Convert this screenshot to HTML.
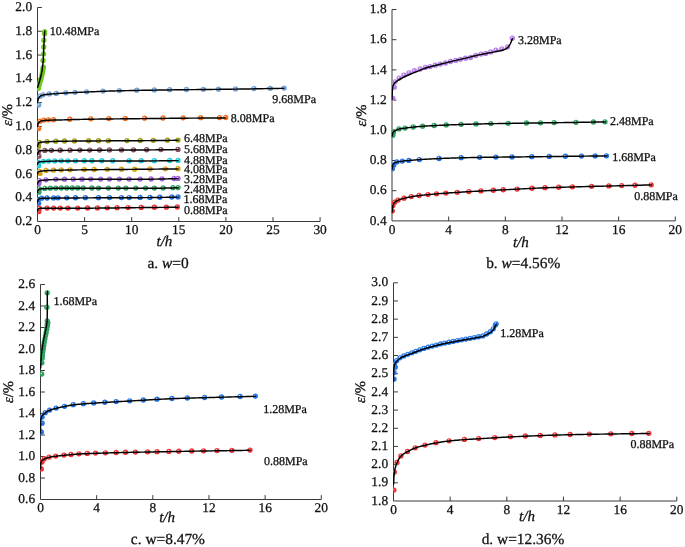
<!DOCTYPE html>
<html><head><meta charset="utf-8"><style>
html,body{margin:0;padding:0;background:#fff;}
body{width:685px;height:547px;overflow:hidden;}
svg{display:block;will-change:transform;}
text{font-family:"Liberation Serif",serif;stroke:#111;stroke-width:0.28px;text-rendering:geometricPrecision;}
</style></head><body>
<svg width="685" height="547" viewBox="0 0 685 547" font-family='"Liberation Serif", serif' fill="#111"><defs><radialGradient id="g_red" cx="0.4" cy="0.36" r="0.62"><stop offset="0" stop-color="#ffffff" stop-opacity="0.6"/><stop offset="0.3" stop-color="#ee2f2f" stop-opacity="0.92"/><stop offset="1" stop-color="#ee2f2f" stop-opacity="1"/></radialGradient><radialGradient id="g_blue" cx="0.4" cy="0.36" r="0.62"><stop offset="0" stop-color="#ffffff" stop-opacity="0.6"/><stop offset="0.3" stop-color="#1b6fe2" stop-opacity="0.92"/><stop offset="1" stop-color="#1b6fe2" stop-opacity="1"/></radialGradient><radialGradient id="g_green" cx="0.4" cy="0.36" r="0.62"><stop offset="0" stop-color="#ffffff" stop-opacity="0.6"/><stop offset="0.3" stop-color="#2a9e5a" stop-opacity="0.92"/><stop offset="1" stop-color="#2a9e5a" stop-opacity="1"/></radialGradient><radialGradient id="g_purple" cx="0.4" cy="0.36" r="0.62"><stop offset="0" stop-color="#ffffff" stop-opacity="0.6"/><stop offset="0.3" stop-color="#a25ede" stop-opacity="0.92"/><stop offset="1" stop-color="#a25ede" stop-opacity="1"/></radialGradient><radialGradient id="g_gold" cx="0.4" cy="0.36" r="0.62"><stop offset="0" stop-color="#ffffff" stop-opacity="0.6"/><stop offset="0.3" stop-color="#d3a010" stop-opacity="0.92"/><stop offset="1" stop-color="#d3a010" stop-opacity="1"/></radialGradient><radialGradient id="g_cyan" cx="0.4" cy="0.36" r="0.62"><stop offset="0" stop-color="#ffffff" stop-opacity="0.6"/><stop offset="0.3" stop-color="#14ccd8" stop-opacity="0.92"/><stop offset="1" stop-color="#14ccd8" stop-opacity="1"/></radialGradient><radialGradient id="g_brown" cx="0.4" cy="0.36" r="0.62"><stop offset="0" stop-color="#ffffff" stop-opacity="0.6"/><stop offset="0.3" stop-color="#84505c" stop-opacity="0.92"/><stop offset="1" stop-color="#84505c" stop-opacity="1"/></radialGradient><radialGradient id="g_olive" cx="0.4" cy="0.36" r="0.62"><stop offset="0" stop-color="#ffffff" stop-opacity="0.6"/><stop offset="0.3" stop-color="#9a9a12" stop-opacity="0.92"/><stop offset="1" stop-color="#9a9a12" stop-opacity="1"/></radialGradient><radialGradient id="g_orange" cx="0.4" cy="0.36" r="0.62"><stop offset="0" stop-color="#ffffff" stop-opacity="0.6"/><stop offset="0.3" stop-color="#f26a18" stop-opacity="0.92"/><stop offset="1" stop-color="#f26a18" stop-opacity="1"/></radialGradient><radialGradient id="g_lblue" cx="0.4" cy="0.36" r="0.62"><stop offset="0" stop-color="#ffffff" stop-opacity="0.6"/><stop offset="0.3" stop-color="#6a9ed8" stop-opacity="0.92"/><stop offset="1" stop-color="#6a9ed8" stop-opacity="1"/></radialGradient><radialGradient id="g_lgreen" cx="0.4" cy="0.36" r="0.62"><stop offset="0" stop-color="#ffffff" stop-opacity="0.6"/><stop offset="0.3" stop-color="#6cc61a" stop-opacity="0.92"/><stop offset="1" stop-color="#6cc61a" stop-opacity="1"/></radialGradient><radialGradient id="g_bpurple" cx="0.4" cy="0.36" r="0.62"><stop offset="0" stop-color="#ffffff" stop-opacity="0.6"/><stop offset="0.3" stop-color="#b37ce8" stop-opacity="0.92"/><stop offset="1" stop-color="#b37ce8" stop-opacity="1"/></radialGradient><radialGradient id="g_bblue" cx="0.4" cy="0.36" r="0.62"><stop offset="0" stop-color="#ffffff" stop-opacity="0.6"/><stop offset="0.3" stop-color="#2476e6" stop-opacity="0.92"/><stop offset="1" stop-color="#2476e6" stop-opacity="1"/></radialGradient><clipPath id="cA"><rect x="37.0" y="0" width="300" height="221"/></clipPath><clipPath id="cB"><rect x="391.5" y="0" width="300" height="220.5"/></clipPath><clipPath id="cC"><rect x="40.0" y="270" width="300" height="229"/></clipPath><clipPath id="cD"><rect x="393.0" y="270" width="300" height="230.5"/></clipPath></defs><path d="M37.5,7.5 L37.5,221.5 L320.1,221.5" fill="none" stroke="#3a3a3a" stroke-width="1"/><path d="M84.60,221.5 L84.60,217.1 M131.70,221.5 L131.70,217.1 M178.80,221.5 L178.80,217.1 M225.90,221.5 L225.90,217.1 M273.00,221.5 L273.00,217.1 M320.10,221.5 L320.10,217.1 M37.5,197.72 L41.9,197.72 M37.5,173.94 L41.9,173.94 M37.5,150.17 L41.9,150.17 M37.5,126.39 L41.9,126.39 M37.5,102.61 L41.9,102.61 M37.5,78.83 L41.9,78.83 M37.5,55.06 L41.9,55.06 M37.5,31.28 L41.9,31.28 M37.5,7.50 L41.9,7.50" fill="none" stroke="#3a3a3a" stroke-width="1"/><text x="37.50" y="234.40" font-size="13.4" text-anchor="middle">0</text><text x="84.60" y="234.40" font-size="13.4" text-anchor="middle">5</text><text x="131.70" y="234.40" font-size="13.4" text-anchor="middle">10</text><text x="178.80" y="234.40" font-size="13.4" text-anchor="middle">15</text><text x="225.90" y="234.40" font-size="13.4" text-anchor="middle">20</text><text x="273.00" y="234.40" font-size="13.4" text-anchor="middle">25</text><text x="320.10" y="234.40" font-size="13.4" text-anchor="middle">30</text><text x="32.10" y="225.10" font-size="13.4" text-anchor="end">0.2</text><text x="32.10" y="201.32" font-size="13.4" text-anchor="end">0.4</text><text x="32.10" y="177.54" font-size="13.4" text-anchor="end">0.6</text><text x="32.10" y="153.77" font-size="13.4" text-anchor="end">0.8</text><text x="32.10" y="129.99" font-size="13.4" text-anchor="end">1.0</text><text x="32.10" y="106.21" font-size="13.4" text-anchor="end">1.2</text><text x="32.10" y="82.43" font-size="13.4" text-anchor="end">1.4</text><text x="32.10" y="58.66" font-size="13.4" text-anchor="end">1.6</text><text x="32.10" y="34.88" font-size="13.4" text-anchor="end">1.8</text><text x="32.10" y="11.10" font-size="13.4" text-anchor="end">2.0</text><text transform="translate(12.3,115.0) rotate(-90)" font-size="14.6" text-anchor="middle"><tspan font-style="italic">ε</tspan>/%</text><text x="164.4" y="245.5" font-size="15" text-anchor="middle" font-style="italic">t/h</text><text x="168.0" y="268.3" font-size="15.4" text-anchor="middle">a. <tspan font-style="italic">w</tspan>=0</text><g clip-path="url(#cA)"><circle cx="38.60" cy="146.30" r="2.65" fill="url(#g_olive)"/><circle cx="39.38" cy="142.35" r="2.65" fill="url(#g_olive)"/><circle cx="47.04" cy="141.57" r="2.65" fill="url(#g_olive)"/><circle cx="55.80" cy="141.20" r="2.65" fill="url(#g_olive)"/><circle cx="64.56" cy="141.01" r="2.65" fill="url(#g_olive)"/><circle cx="74.41" cy="140.89" r="2.65" fill="url(#g_olive)"/><circle cx="88.65" cy="140.76" r="2.65" fill="url(#g_olive)"/><circle cx="98.50" cy="140.70" r="2.65" fill="url(#g_olive)"/><circle cx="108.35" cy="140.64" r="2.65" fill="url(#g_olive)"/><circle cx="126.96" cy="140.55" r="2.65" fill="url(#g_olive)"/><circle cx="140.10" cy="140.48" r="2.65" fill="url(#g_olive)"/><circle cx="153.24" cy="140.37" r="2.65" fill="url(#g_olive)"/><circle cx="167.47" cy="140.22" r="2.65" fill="url(#g_olive)"/><circle cx="178.00" cy="140.10" r="2.65" fill="url(#g_olive)"/><path d="M37.50,146.50 L37.51,146.48 L37.52,146.43 L37.56,146.34 L37.60,146.21 L37.66,146.04 L37.72,145.82 L37.81,145.55 L37.90,145.22 L38.01,144.85 L38.12,144.44 L38.26,144.01 L38.40,143.57 L38.56,143.17 L38.72,142.86 L38.90,142.70 L38.91,142.70 L39.10,142.63 L39.30,142.57 L39.52,142.50 L39.75,142.44 L40.00,142.39 L40.25,142.33 L40.52,142.28 L40.80,142.24 L41.10,142.19 L41.40,142.16 L41.72,142.12 L42.05,142.09 L42.40,142.06 L42.75,142.04 L43.12,142.01 L43.30,142.00 L43.50,141.99 L43.89,141.96 L44.30,141.93 L44.72,141.91 L45.15,141.88 L45.59,141.85 L46.05,141.82 L46.52,141.80 L47.00,141.77 L47.49,141.74 L48.00,141.71 L48.52,141.69 L49.05,141.66 L49.59,141.63 L50.14,141.61 L50.71,141.58 L51.29,141.56 L51.89,141.53 L52.49,141.51 L53.11,141.49 L53.74,141.46 L54.38,141.44 L55.04,141.42 L55.71,141.40 L56.39,141.38 L57.08,141.36 L57.79,141.34 L58.51,141.32 L59.24,141.30 L59.98,141.29 L60.74,141.27 L61.50,141.26 L62.28,141.24 L63.08,141.23 L63.88,141.22 L64.70,141.20 L65.00,141.20 L65.53,141.19 L66.37,141.18 L67.23,141.17 L68.10,141.16 L68.98,141.15 L69.87,141.14 L70.78,141.13 L71.69,141.12 L72.62,141.11 L73.57,141.09 L74.52,141.08 L75.49,141.07 L76.47,141.06 L77.46,141.05 L78.47,141.04 L79.49,141.04 L80.52,141.03 L81.56,141.02 L82.62,141.01 L83.68,141.00 L84.76,140.99 L85.86,140.98 L86.96,140.97 L88.08,140.96 L89.21,140.96 L90.35,140.95 L91.51,140.94 L92.68,140.93 L93.86,140.92 L95.05,140.92 L96.25,140.91 L97.47,140.90 L98.70,140.89 L99.94,140.89 L101.20,140.88 L102.47,140.87 L103.75,140.87 L105.04,140.86 L106.34,140.85 L107.66,140.85 L108.99,140.84 L110.34,140.83 L111.69,140.83 L113.06,140.82 L114.44,140.81 L115.83,140.81 L117.24,140.80 L118.65,140.79 L120.08,140.79 L121.53,140.78 L122.98,140.77 L124.45,140.77 L125.93,140.76 L127.42,140.75 L128.92,140.74 L130.44,140.74 L131.97,140.73 L133.51,140.72 L135.07,140.71 L136.64,140.70 L138.22,140.69 L139.81,140.68 L141.41,140.67 L143.03,140.66 L144.66,140.64 L146.30,140.63 L147.96,140.62 L149.63,140.60 L150.00,140.60 L151.31,140.59 L153.00,140.57 L154.70,140.56 L156.42,140.54 L158.15,140.52 L159.89,140.50 L161.65,140.48 L163.41,140.46 L165.19,140.44 L166.98,140.42 L168.79,140.40 L170.61,140.38 L172.44,140.36 L174.28,140.34 L176.13,140.32 L178.00,140.30" fill="none" stroke="#000" stroke-width="1.45" stroke-linecap="round" stroke-linejoin="round"/><circle cx="38.90" cy="156.20" r="2.65" fill="url(#g_brown)"/><circle cx="38.28" cy="151.92" r="2.65" fill="url(#g_brown)"/><circle cx="44.85" cy="150.38" r="2.65" fill="url(#g_brown)"/><circle cx="51.42" cy="150.29" r="2.65" fill="url(#g_brown)"/><circle cx="60.18" cy="150.23" r="2.65" fill="url(#g_brown)"/><circle cx="70.03" cy="150.16" r="2.65" fill="url(#g_brown)"/><circle cx="79.89" cy="150.09" r="2.65" fill="url(#g_brown)"/><circle cx="89.74" cy="150.03" r="2.65" fill="url(#g_brown)"/><circle cx="99.59" cy="149.98" r="2.65" fill="url(#g_brown)"/><circle cx="109.45" cy="149.94" r="2.65" fill="url(#g_brown)"/><circle cx="121.49" cy="149.88" r="2.65" fill="url(#g_brown)"/><circle cx="133.53" cy="149.81" r="2.65" fill="url(#g_brown)"/><circle cx="146.67" cy="149.73" r="2.65" fill="url(#g_brown)"/><circle cx="160.90" cy="149.59" r="2.65" fill="url(#g_brown)"/><circle cx="178.00" cy="149.40" r="2.65" fill="url(#g_brown)"/><path d="M37.50,154.50 L37.51,154.47 L37.52,154.36 L37.56,154.17 L37.60,153.89 L37.66,153.53 L37.72,153.15 L37.80,152.90 L37.81,152.89 L37.90,152.72 L38.01,152.55 L38.12,152.36 L38.26,152.16 L38.40,151.97 L38.56,151.77 L38.72,151.58 L38.91,151.39 L39.10,151.22 L39.30,151.07 L39.52,150.94 L39.75,150.83 L40.00,150.76 L40.25,150.71 L40.40,150.70 L40.52,150.70 L40.80,150.69 L41.10,150.68 L41.40,150.67 L41.72,150.66 L42.05,150.65 L42.40,150.64 L42.75,150.63 L43.12,150.62 L43.50,150.61 L43.89,150.60 L44.30,150.59 L44.72,150.59 L45.15,150.58 L45.59,150.57 L46.05,150.56 L46.52,150.55 L47.00,150.54 L47.49,150.53 L48.00,150.53 L48.52,150.52 L49.05,150.51 L49.59,150.51 L50.14,150.50 L50.71,150.49 L51.29,150.49 L51.89,150.48 L52.49,150.48 L53.11,150.47 L53.74,150.47 L54.38,150.46 L55.04,150.46 L55.71,150.46 L56.39,150.45 L57.08,150.45 L57.79,150.44 L58.51,150.44 L59.24,150.44 L59.98,150.43 L60.74,150.43 L61.50,150.42 L62.28,150.42 L63.08,150.41 L63.88,150.41 L64.70,150.40 L65.00,150.40 L65.53,150.40 L66.37,150.39 L67.23,150.38 L68.10,150.37 L68.98,150.37 L69.87,150.36 L70.78,150.35 L71.69,150.35 L72.62,150.34 L73.57,150.33 L74.52,150.33 L75.49,150.32 L76.47,150.31 L77.46,150.31 L78.47,150.30 L79.49,150.29 L80.52,150.29 L81.56,150.28 L82.62,150.27 L83.68,150.27 L84.76,150.26 L85.86,150.25 L86.96,150.25 L88.08,150.24 L89.21,150.24 L90.35,150.23 L91.51,150.22 L92.68,150.22 L93.86,150.21 L95.05,150.21 L96.25,150.20 L97.47,150.19 L98.70,150.19 L99.94,150.18 L101.20,150.17 L102.47,150.17 L103.75,150.16 L105.04,150.16 L106.34,150.15 L107.66,150.14 L108.99,150.14 L110.34,150.13 L111.69,150.13 L113.06,150.12 L114.44,150.11 L115.83,150.11 L117.24,150.10 L118.65,150.09 L120.08,150.08 L121.53,150.08 L122.98,150.07 L124.45,150.06 L125.93,150.05 L127.42,150.05 L128.92,150.04 L130.44,150.03 L131.97,150.02 L133.51,150.01 L135.07,150.00 L136.64,149.99 L138.22,149.98 L139.81,149.97 L141.41,149.96 L143.03,149.95 L144.66,149.94 L146.30,149.93 L147.96,149.92 L149.63,149.90 L150.00,149.90 L151.31,149.89 L153.00,149.87 L154.70,149.86 L156.42,149.84 L158.15,149.82 L159.89,149.81 L161.65,149.79 L163.41,149.77 L165.19,149.75 L166.98,149.73 L168.79,149.70 L170.61,149.68 L172.44,149.66 L174.28,149.64 L176.13,149.62 L178.00,149.60" fill="none" stroke="#000" stroke-width="1.45" stroke-linecap="round" stroke-linejoin="round"/><circle cx="38.60" cy="165.70" r="2.65" fill="url(#g_cyan)"/><circle cx="38.28" cy="162.18" r="2.65" fill="url(#g_cyan)"/><circle cx="43.32" cy="161.32" r="2.65" fill="url(#g_cyan)"/><circle cx="48.58" cy="161.07" r="2.65" fill="url(#g_cyan)"/><circle cx="54.71" cy="160.90" r="2.65" fill="url(#g_cyan)"/><circle cx="61.28" cy="160.82" r="2.65" fill="url(#g_cyan)"/><circle cx="67.84" cy="160.79" r="2.65" fill="url(#g_cyan)"/><circle cx="75.51" cy="160.78" r="2.65" fill="url(#g_cyan)"/><circle cx="84.27" cy="160.76" r="2.65" fill="url(#g_cyan)"/><circle cx="91.93" cy="160.76" r="2.65" fill="url(#g_cyan)"/><circle cx="101.78" cy="160.75" r="2.65" fill="url(#g_cyan)"/><circle cx="112.73" cy="160.74" r="2.65" fill="url(#g_cyan)"/><circle cx="129.15" cy="160.73" r="2.65" fill="url(#g_cyan)"/><circle cx="141.20" cy="160.72" r="2.65" fill="url(#g_cyan)"/><circle cx="154.33" cy="160.68" r="2.65" fill="url(#g_cyan)"/><circle cx="169.66" cy="160.50" r="2.65" fill="url(#g_cyan)"/><circle cx="178.00" cy="160.40" r="2.65" fill="url(#g_cyan)"/><path d="M37.50,164.50 L37.51,164.46 L37.52,164.35 L37.56,164.14 L37.60,163.83 L37.66,163.43 L37.72,163.03 L37.80,162.80 L37.81,162.79 L37.90,162.70 L38.01,162.60 L38.12,162.50 L38.26,162.40 L38.40,162.30 L38.56,162.20 L38.72,162.11 L38.91,162.02 L39.10,161.94 L39.30,161.87 L39.52,161.82 L39.75,161.77 L40.00,161.74 L40.25,161.71 L40.40,161.70 L40.52,161.69 L40.80,161.67 L41.10,161.65 L41.40,161.63 L41.72,161.61 L42.05,161.59 L42.40,161.57 L42.75,161.55 L43.12,161.53 L43.50,161.51 L43.89,161.48 L44.30,161.46 L44.72,161.44 L45.15,161.42 L45.59,161.40 L46.05,161.38 L46.52,161.35 L47.00,161.33 L47.49,161.31 L48.00,161.29 L48.52,161.27 L49.05,161.25 L49.59,161.23 L50.14,161.22 L50.71,161.20 L51.29,161.18 L51.89,161.16 L52.49,161.15 L53.11,161.13 L53.74,161.12 L54.38,161.11 L55.04,161.09 L55.71,161.08 L56.39,161.07 L57.08,161.06 L57.79,161.05 L58.51,161.04 L59.24,161.03 L59.98,161.03 L60.74,161.02 L61.50,161.02 L62.28,161.01 L63.08,161.01 L63.88,161.00 L64.70,161.00 L65.00,161.00 L65.53,161.00 L66.37,161.00 L67.23,160.99 L68.10,160.99 L68.98,160.99 L69.87,160.99 L70.78,160.99 L71.69,160.98 L72.62,160.98 L73.57,160.98 L74.52,160.98 L75.49,160.98 L76.47,160.97 L77.46,160.97 L78.47,160.97 L79.49,160.97 L80.52,160.97 L81.56,160.97 L82.62,160.97 L83.68,160.96 L84.76,160.96 L85.86,160.96 L86.96,160.96 L88.08,160.96 L89.21,160.96 L90.35,160.96 L91.51,160.96 L92.68,160.96 L93.86,160.95 L95.05,160.95 L96.25,160.95 L97.47,160.95 L98.70,160.95 L99.94,160.95 L101.20,160.95 L102.47,160.95 L103.75,160.95 L105.04,160.95 L106.34,160.95 L107.66,160.95 L108.99,160.95 L110.34,160.95 L111.69,160.95 L113.06,160.94 L114.44,160.94 L115.83,160.94 L117.24,160.94 L118.65,160.94 L120.08,160.94 L121.53,160.94 L122.98,160.94 L124.45,160.94 L125.93,160.94 L127.42,160.94 L128.92,160.93 L130.44,160.93 L131.97,160.93 L133.51,160.93 L135.07,160.93 L136.64,160.93 L138.22,160.92 L139.81,160.92 L141.41,160.92 L143.03,160.91 L144.66,160.91 L146.30,160.91 L147.96,160.90 L149.63,160.90 L150.00,160.90 L151.31,160.90 L153.00,160.89 L154.70,160.88 L156.42,160.86 L158.15,160.85 L159.89,160.83 L161.65,160.81 L163.41,160.79 L165.19,160.76 L166.98,160.74 L168.79,160.72 L170.61,160.69 L172.44,160.67 L174.28,160.64 L176.13,160.62 L178.00,160.60" fill="none" stroke="#000" stroke-width="1.45" stroke-linecap="round" stroke-linejoin="round"/><circle cx="40.00" cy="173.40" r="2.65" fill="url(#g_gold)"/><circle cx="39.38" cy="171.28" r="2.65" fill="url(#g_gold)"/><circle cx="45.95" cy="170.50" r="2.65" fill="url(#g_gold)"/><circle cx="53.61" cy="170.15" r="2.65" fill="url(#g_gold)"/><circle cx="61.28" cy="169.97" r="2.65" fill="url(#g_gold)"/><circle cx="70.03" cy="169.81" r="2.65" fill="url(#g_gold)"/><circle cx="84.27" cy="169.61" r="2.65" fill="url(#g_gold)"/><circle cx="94.12" cy="169.49" r="2.65" fill="url(#g_gold)"/><circle cx="107.26" cy="169.37" r="2.65" fill="url(#g_gold)"/><circle cx="121.49" cy="169.25" r="2.65" fill="url(#g_gold)"/><circle cx="134.63" cy="169.15" r="2.65" fill="url(#g_gold)"/><circle cx="149.96" cy="169.00" r="2.65" fill="url(#g_gold)"/><circle cx="165.28" cy="168.84" r="2.65" fill="url(#g_gold)"/><circle cx="178.00" cy="168.70" r="2.65" fill="url(#g_gold)"/><path d="M37.50,174.00 L37.51,173.96 L37.52,173.85 L37.56,173.64 L37.60,173.32 L37.66,172.92 L37.72,172.52 L37.80,172.30 L37.81,172.30 L37.90,172.23 L38.01,172.16 L38.12,172.08 L38.26,172.01 L38.40,171.92 L38.56,171.84 L38.72,171.75 L38.91,171.67 L39.10,171.59 L39.30,171.50 L39.52,171.43 L39.75,171.35 L40.00,171.29 L40.25,171.22 L40.52,171.17 L40.80,171.12 L41.10,171.07 L41.40,171.03 L41.72,171.00 L42.05,170.97 L42.40,170.94 L42.75,170.92 L43.00,170.90 L43.12,170.89 L43.50,170.86 L43.89,170.83 L44.30,170.81 L44.72,170.78 L45.15,170.75 L45.59,170.72 L46.05,170.69 L46.52,170.67 L47.00,170.64 L47.49,170.61 L48.00,170.58 L48.52,170.56 L49.05,170.53 L49.59,170.51 L50.14,170.48 L50.71,170.46 L51.29,170.44 L51.89,170.41 L52.49,170.39 L53.11,170.37 L53.74,170.35 L54.38,170.33 L55.04,170.31 L55.71,170.29 L56.39,170.27 L57.08,170.26 L57.79,170.24 L58.51,170.22 L59.24,170.21 L59.98,170.19 L60.74,170.18 L61.50,170.16 L62.28,170.15 L63.08,170.14 L63.88,170.12 L64.70,170.11 L65.00,170.10 L65.53,170.09 L66.37,170.08 L67.23,170.06 L68.10,170.04 L68.98,170.03 L69.87,170.01 L70.78,170.00 L71.69,169.98 L72.62,169.97 L73.57,169.96 L74.52,169.94 L75.49,169.93 L76.47,169.91 L77.46,169.90 L78.47,169.88 L79.49,169.87 L80.52,169.86 L81.56,169.84 L82.62,169.83 L83.68,169.81 L84.76,169.80 L85.86,169.79 L86.96,169.77 L88.08,169.76 L89.21,169.75 L90.35,169.73 L91.51,169.72 L92.68,169.71 L93.86,169.70 L95.05,169.68 L96.25,169.67 L97.47,169.66 L98.70,169.65 L99.94,169.64 L101.20,169.62 L102.47,169.61 L103.75,169.60 L105.04,169.59 L106.34,169.58 L107.66,169.57 L108.99,169.56 L110.34,169.54 L111.69,169.53 L113.06,169.52 L114.44,169.51 L115.83,169.50 L117.24,169.49 L118.65,169.48 L120.08,169.46 L121.53,169.45 L122.98,169.44 L124.45,169.43 L125.93,169.42 L127.42,169.41 L128.92,169.39 L130.44,169.38 L131.97,169.37 L133.51,169.36 L135.07,169.34 L136.64,169.33 L138.22,169.31 L139.81,169.30 L141.41,169.29 L143.03,169.27 L144.66,169.25 L146.30,169.24 L147.96,169.22 L149.63,169.20 L150.00,169.20 L151.31,169.19 L153.00,169.17 L154.70,169.15 L156.42,169.13 L158.15,169.11 L159.89,169.09 L161.65,169.08 L163.41,169.06 L165.19,169.04 L166.98,169.02 L168.79,169.00 L170.61,168.98 L172.44,168.96 L174.28,168.94 L176.13,168.92 L178.00,168.90" fill="none" stroke="#000" stroke-width="1.45" stroke-linecap="round" stroke-linejoin="round"/><circle cx="38.90" cy="183.40" r="2.65" fill="url(#g_purple)"/><circle cx="39.38" cy="180.67" r="2.65" fill="url(#g_purple)"/><circle cx="45.95" cy="179.79" r="2.65" fill="url(#g_purple)"/><circle cx="55.80" cy="179.32" r="2.65" fill="url(#g_purple)"/><circle cx="64.56" cy="179.20" r="2.65" fill="url(#g_purple)"/><circle cx="73.32" cy="179.16" r="2.65" fill="url(#g_purple)"/><circle cx="82.08" cy="179.13" r="2.65" fill="url(#g_purple)"/><circle cx="90.84" cy="179.12" r="2.65" fill="url(#g_purple)"/><circle cx="100.69" cy="179.10" r="2.65" fill="url(#g_purple)"/><circle cx="109.45" cy="179.09" r="2.65" fill="url(#g_purple)"/><circle cx="119.30" cy="179.08" r="2.65" fill="url(#g_purple)"/><circle cx="129.15" cy="179.07" r="2.65" fill="url(#g_purple)"/><circle cx="140.10" cy="179.04" r="2.65" fill="url(#g_purple)"/><circle cx="151.05" cy="178.99" r="2.65" fill="url(#g_purple)"/><circle cx="162.00" cy="178.81" r="2.65" fill="url(#g_purple)"/><circle cx="174.04" cy="178.49" r="2.65" fill="url(#g_purple)"/><circle cx="178.00" cy="178.40" r="2.65" fill="url(#g_purple)"/><path d="M37.50,184.00 L37.51,183.97 L37.52,183.89 L37.56,183.73 L37.60,183.51 L37.66,183.22 L37.72,182.92 L37.80,182.70 L37.81,182.69 L37.90,182.53 L38.01,182.36 L38.12,182.18 L38.26,181.99 L38.40,181.80 L38.56,181.61 L38.72,181.43 L38.91,181.25 L39.10,181.08 L39.30,180.92 L39.52,180.79 L39.75,180.67 L40.00,180.58 L40.25,180.52 L40.40,180.50 L40.52,180.49 L40.80,180.46 L41.10,180.42 L41.40,180.39 L41.72,180.36 L42.05,180.33 L42.40,180.29 L42.75,180.26 L43.12,180.22 L43.50,180.19 L43.89,180.15 L44.30,180.12 L44.72,180.08 L45.15,180.05 L45.59,180.02 L46.05,179.98 L46.52,179.95 L47.00,179.92 L47.49,179.88 L48.00,179.85 L48.52,179.82 L49.05,179.79 L49.59,179.76 L50.14,179.73 L50.71,179.71 L51.29,179.68 L51.89,179.65 L52.49,179.63 L53.11,179.61 L53.74,179.58 L54.38,179.56 L55.04,179.54 L55.71,179.53 L56.39,179.51 L57.08,179.49 L57.79,179.48 L58.51,179.47 L59.24,179.45 L59.98,179.44 L60.74,179.43 L61.50,179.43 L62.28,179.42 L63.08,179.41 L63.88,179.41 L64.70,179.40 L65.00,179.40 L65.53,179.40 L66.37,179.39 L67.23,179.39 L68.10,179.38 L68.98,179.38 L69.87,179.38 L70.78,179.37 L71.69,179.37 L72.62,179.36 L73.57,179.36 L74.52,179.36 L75.49,179.35 L76.47,179.35 L77.46,179.35 L78.47,179.34 L79.49,179.34 L80.52,179.34 L81.56,179.34 L82.62,179.33 L83.68,179.33 L84.76,179.33 L85.86,179.33 L86.96,179.32 L88.08,179.32 L89.21,179.32 L90.35,179.32 L91.51,179.31 L92.68,179.31 L93.86,179.31 L95.05,179.31 L96.25,179.31 L97.47,179.31 L98.70,179.30 L99.94,179.30 L101.20,179.30 L102.47,179.30 L103.75,179.30 L105.04,179.30 L106.34,179.30 L107.66,179.30 L108.99,179.29 L110.34,179.29 L111.69,179.29 L113.06,179.29 L114.44,179.29 L115.83,179.29 L117.24,179.29 L118.65,179.28 L120.08,179.28 L121.53,179.28 L122.98,179.28 L124.45,179.28 L125.93,179.27 L127.42,179.27 L128.92,179.27 L130.44,179.27 L131.97,179.26 L133.51,179.26 L135.07,179.25 L136.64,179.25 L138.22,179.25 L139.81,179.24 L141.41,179.24 L143.03,179.23 L144.66,179.22 L146.30,179.22 L147.96,179.21 L149.63,179.20 L150.00,179.20 L151.31,179.19 L153.00,179.18 L154.70,179.15 L156.42,179.13 L158.15,179.09 L159.89,179.06 L161.65,179.02 L163.41,178.97 L165.19,178.93 L166.98,178.88 L168.79,178.83 L170.61,178.78 L172.44,178.73 L174.28,178.69 L176.13,178.64 L178.00,178.60" fill="none" stroke="#000" stroke-width="1.45" stroke-linecap="round" stroke-linejoin="round"/><circle cx="38.90" cy="192.20" r="2.65" fill="url(#g_green)"/><circle cx="39.38" cy="188.96" r="2.65" fill="url(#g_green)"/><circle cx="44.85" cy="188.42" r="2.65" fill="url(#g_green)"/><circle cx="50.33" cy="188.19" r="2.65" fill="url(#g_green)"/><circle cx="55.80" cy="188.06" r="2.65" fill="url(#g_green)"/><circle cx="61.28" cy="188.01" r="2.65" fill="url(#g_green)"/><circle cx="66.75" cy="188.00" r="2.65" fill="url(#g_green)"/><circle cx="72.22" cy="188.00" r="2.65" fill="url(#g_green)"/><circle cx="77.70" cy="188.01" r="2.65" fill="url(#g_green)"/><circle cx="83.17" cy="188.01" r="2.65" fill="url(#g_green)"/><circle cx="91.93" cy="188.02" r="2.65" fill="url(#g_green)"/><circle cx="98.50" cy="188.03" r="2.65" fill="url(#g_green)"/><circle cx="108.35" cy="188.05" r="2.65" fill="url(#g_green)"/><circle cx="118.21" cy="188.07" r="2.65" fill="url(#g_green)"/><circle cx="125.87" cy="188.08" r="2.65" fill="url(#g_green)"/><circle cx="135.72" cy="188.09" r="2.65" fill="url(#g_green)"/><circle cx="145.58" cy="188.10" r="2.65" fill="url(#g_green)"/><circle cx="154.33" cy="188.08" r="2.65" fill="url(#g_green)"/><circle cx="163.09" cy="187.93" r="2.65" fill="url(#g_green)"/><circle cx="172.95" cy="187.70" r="2.65" fill="url(#g_green)"/><circle cx="178.00" cy="187.60" r="2.65" fill="url(#g_green)"/><path d="M37.50,192.50 L37.51,192.46 L37.52,192.34 L37.56,192.12 L37.60,191.80 L37.66,191.39 L37.72,190.96 L37.80,190.70 L37.81,190.69 L37.90,190.55 L38.01,190.39 L38.12,190.24 L38.26,190.07 L38.40,189.91 L38.56,189.75 L38.72,189.59 L38.91,189.45 L39.10,189.31 L39.30,189.20 L39.52,189.10 L39.75,189.02 L40.00,188.95 L40.25,188.91 L40.40,188.90 L40.52,188.89 L40.80,188.87 L41.10,188.85 L41.40,188.83 L41.72,188.81 L42.05,188.79 L42.40,188.76 L42.75,188.74 L43.12,188.72 L43.50,188.70 L43.89,188.67 L44.30,188.65 L44.72,188.63 L45.15,188.61 L45.59,188.58 L46.05,188.56 L46.52,188.54 L47.00,188.52 L47.49,188.50 L48.00,188.48 L48.52,188.46 L49.05,188.44 L49.59,188.42 L50.14,188.40 L50.71,188.38 L51.29,188.36 L51.89,188.35 L52.49,188.33 L53.11,188.32 L53.74,188.30 L54.38,188.29 L55.04,188.28 L55.71,188.27 L56.39,188.25 L57.08,188.25 L57.79,188.24 L58.51,188.23 L59.24,188.22 L59.98,188.22 L60.74,188.21 L61.50,188.21 L62.28,188.20 L63.08,188.20 L63.88,188.20 L64.70,188.20 L65.00,188.20 L65.53,188.20 L66.37,188.20 L67.23,188.20 L68.10,188.20 L68.98,188.20 L69.87,188.20 L70.78,188.20 L71.69,188.20 L72.62,188.20 L73.57,188.20 L74.52,188.20 L75.49,188.20 L76.47,188.20 L77.46,188.21 L78.47,188.21 L79.49,188.21 L80.52,188.21 L81.56,188.21 L82.62,188.21 L83.68,188.21 L84.76,188.21 L85.86,188.22 L86.96,188.22 L88.08,188.22 L89.21,188.22 L90.35,188.22 L91.51,188.22 L92.68,188.22 L93.86,188.23 L95.05,188.23 L96.25,188.23 L97.47,188.23 L98.70,188.23 L99.94,188.24 L101.20,188.24 L102.47,188.24 L103.75,188.24 L105.04,188.25 L106.34,188.25 L107.66,188.25 L108.99,188.25 L110.34,188.25 L111.69,188.26 L113.06,188.26 L114.44,188.26 L115.83,188.26 L117.24,188.27 L118.65,188.27 L120.08,188.27 L121.53,188.27 L122.98,188.28 L124.45,188.28 L125.93,188.28 L127.42,188.28 L128.92,188.28 L130.44,188.29 L131.97,188.29 L133.51,188.29 L135.07,188.29 L136.64,188.29 L138.22,188.29 L139.81,188.30 L141.41,188.30 L143.03,188.30 L144.66,188.30 L146.30,188.30 L147.96,188.30 L149.63,188.30 L150.00,188.30 L151.31,188.30 L153.00,188.29 L154.70,188.27 L156.42,188.25 L158.15,188.23 L159.89,188.20 L161.65,188.16 L163.41,188.13 L165.19,188.09 L166.98,188.04 L168.79,188.00 L170.61,187.96 L172.44,187.92 L174.28,187.87 L176.13,187.84 L178.00,187.80" fill="none" stroke="#000" stroke-width="1.45" stroke-linecap="round" stroke-linejoin="round"/><circle cx="38.60" cy="203.20" r="2.65" fill="url(#g_blue)"/><circle cx="38.28" cy="199.32" r="2.65" fill="url(#g_blue)"/><circle cx="41.57" cy="198.15" r="2.65" fill="url(#g_blue)"/><circle cx="47.04" cy="197.99" r="2.65" fill="url(#g_blue)"/><circle cx="53.61" cy="197.88" r="2.65" fill="url(#g_blue)"/><circle cx="57.99" cy="197.85" r="2.65" fill="url(#g_blue)"/><circle cx="66.75" cy="197.79" r="2.65" fill="url(#g_blue)"/><circle cx="75.51" cy="197.73" r="2.65" fill="url(#g_blue)"/><circle cx="85.36" cy="197.68" r="2.65" fill="url(#g_blue)"/><circle cx="98.50" cy="197.63" r="2.65" fill="url(#g_blue)"/><circle cx="109.45" cy="197.60" r="2.65" fill="url(#g_blue)"/><circle cx="121.49" cy="197.56" r="2.65" fill="url(#g_blue)"/><circle cx="129.15" cy="197.53" r="2.65" fill="url(#g_blue)"/><circle cx="140.10" cy="197.47" r="2.65" fill="url(#g_blue)"/><circle cx="149.96" cy="197.40" r="2.65" fill="url(#g_blue)"/><circle cx="159.81" cy="197.26" r="2.65" fill="url(#g_blue)"/><circle cx="171.85" cy="197.02" r="2.65" fill="url(#g_blue)"/><circle cx="178.00" cy="196.90" r="2.65" fill="url(#g_blue)"/><path d="M37.50,202.50 L37.51,202.45 L37.52,202.30 L37.56,202.02 L37.60,201.60 L37.66,201.07 L37.72,200.52 L37.80,200.20 L37.81,200.19 L37.90,200.04 L38.01,199.88 L38.12,199.72 L38.26,199.55 L38.40,199.38 L38.56,199.22 L38.72,199.06 L38.91,198.92 L39.10,198.79 L39.30,198.67 L39.52,198.57 L39.75,198.50 L40.00,198.44 L40.25,198.41 L40.40,198.40 L40.52,198.39 L40.80,198.38 L41.10,198.37 L41.40,198.36 L41.72,198.35 L42.05,198.33 L42.40,198.32 L42.75,198.31 L43.12,198.30 L43.50,198.28 L43.89,198.27 L44.30,198.26 L44.72,198.25 L45.15,198.23 L45.59,198.22 L46.05,198.21 L46.52,198.20 L47.00,198.19 L47.49,198.18 L48.00,198.17 L48.52,198.16 L49.05,198.15 L49.59,198.14 L50.14,198.13 L50.71,198.12 L51.29,198.11 L51.89,198.10 L52.49,198.10 L53.11,198.09 L53.74,198.08 L54.38,198.08 L55.04,198.07 L55.71,198.06 L56.39,198.06 L57.08,198.05 L57.79,198.05 L58.51,198.04 L59.24,198.04 L59.98,198.03 L60.74,198.03 L61.50,198.02 L62.28,198.02 L63.08,198.01 L63.88,198.01 L64.70,198.00 L65.00,198.00 L65.53,198.00 L66.37,197.99 L67.23,197.98 L68.10,197.98 L68.98,197.97 L69.87,197.96 L70.78,197.96 L71.69,197.95 L72.62,197.94 L73.57,197.94 L74.52,197.93 L75.49,197.93 L76.47,197.92 L77.46,197.92 L78.47,197.91 L79.49,197.91 L80.52,197.90 L81.56,197.89 L82.62,197.89 L83.68,197.88 L84.76,197.88 L85.86,197.88 L86.96,197.87 L88.08,197.87 L89.21,197.86 L90.35,197.86 L91.51,197.85 L92.68,197.85 L93.86,197.84 L95.05,197.84 L96.25,197.84 L97.47,197.83 L98.70,197.83 L99.94,197.82 L101.20,197.82 L102.47,197.82 L103.75,197.81 L105.04,197.81 L106.34,197.80 L107.66,197.80 L108.99,197.80 L110.34,197.79 L111.69,197.79 L113.06,197.78 L114.44,197.78 L115.83,197.78 L117.24,197.77 L118.65,197.77 L120.08,197.76 L121.53,197.76 L122.98,197.75 L124.45,197.75 L125.93,197.74 L127.42,197.73 L128.92,197.73 L130.44,197.72 L131.97,197.71 L133.51,197.71 L135.07,197.70 L136.64,197.69 L138.22,197.68 L139.81,197.67 L141.41,197.66 L143.03,197.65 L144.66,197.64 L146.30,197.63 L147.96,197.62 L149.63,197.60 L150.00,197.60 L151.31,197.59 L153.00,197.57 L154.70,197.55 L156.42,197.52 L158.15,197.49 L159.89,197.46 L161.65,197.43 L163.41,197.40 L165.19,197.36 L166.98,197.32 L168.79,197.28 L170.61,197.25 L172.44,197.21 L174.28,197.17 L176.13,197.13 L178.00,197.10" fill="none" stroke="#000" stroke-width="1.45" stroke-linecap="round" stroke-linejoin="round"/><circle cx="38.90" cy="211.60" r="2.65" fill="url(#g_red)"/><circle cx="39.38" cy="208.22" r="2.65" fill="url(#g_red)"/><circle cx="47.04" cy="208.10" r="2.65" fill="url(#g_red)"/><circle cx="53.61" cy="208.10" r="2.65" fill="url(#g_red)"/><circle cx="60.18" cy="208.10" r="2.65" fill="url(#g_red)"/><circle cx="67.84" cy="208.10" r="2.65" fill="url(#g_red)"/><circle cx="77.70" cy="208.07" r="2.65" fill="url(#g_red)"/><circle cx="87.55" cy="208.01" r="2.65" fill="url(#g_red)"/><circle cx="97.40" cy="207.92" r="2.65" fill="url(#g_red)"/><circle cx="107.26" cy="207.81" r="2.65" fill="url(#g_red)"/><circle cx="117.11" cy="207.69" r="2.65" fill="url(#g_red)"/><circle cx="128.06" cy="207.55" r="2.65" fill="url(#g_red)"/><circle cx="141.20" cy="207.40" r="2.65" fill="url(#g_red)"/><circle cx="154.33" cy="207.26" r="2.65" fill="url(#g_red)"/><circle cx="166.38" cy="207.13" r="2.65" fill="url(#g_red)"/><circle cx="177.33" cy="207.01" r="2.65" fill="url(#g_red)"/><path d="M37.50,211.50 L37.51,211.46 L37.52,211.31 L37.56,211.06 L37.60,210.67 L37.66,210.18 L37.72,209.67 L37.80,209.40 L37.81,209.39 L37.90,209.30 L38.01,209.20 L38.12,209.09 L38.26,208.99 L38.40,208.88 L38.56,208.78 L38.72,208.68 L38.91,208.59 L39.10,208.51 L39.30,208.44 L39.52,208.39 L39.75,208.34 L40.00,208.32 L40.25,208.30 L40.40,208.30 L40.52,208.30 L40.80,208.30 L41.10,208.30 L41.40,208.30 L41.72,208.30 L42.05,208.30 L42.40,208.30 L42.75,208.30 L43.12,208.30 L43.50,208.30 L43.89,208.30 L44.30,208.30 L44.72,208.30 L45.15,208.30 L45.59,208.30 L46.05,208.30 L46.52,208.30 L47.00,208.30 L47.49,208.30 L48.00,208.30 L48.52,208.30 L49.05,208.30 L49.59,208.30 L50.14,208.30 L50.71,208.30 L51.29,208.30 L51.89,208.30 L52.49,208.30 L53.11,208.30 L53.74,208.30 L54.38,208.30 L55.04,208.30 L55.71,208.30 L56.39,208.30 L57.08,208.30 L57.79,208.30 L58.51,208.30 L59.24,208.30 L59.98,208.30 L60.74,208.30 L61.50,208.30 L62.28,208.30 L63.08,208.30 L63.88,208.30 L64.70,208.30 L65.00,208.30 L65.53,208.30 L66.37,208.30 L67.23,208.30 L68.10,208.30 L68.98,208.30 L69.87,208.30 L70.78,208.29 L71.69,208.29 L72.62,208.29 L73.57,208.29 L74.52,208.28 L75.49,208.28 L76.47,208.27 L77.46,208.27 L78.47,208.26 L79.49,208.26 L80.52,208.25 L81.56,208.25 L82.62,208.24 L83.68,208.23 L84.76,208.23 L85.86,208.22 L86.96,208.21 L88.08,208.20 L89.21,208.19 L90.35,208.18 L91.51,208.17 L92.68,208.16 L93.86,208.15 L95.05,208.14 L96.25,208.13 L97.47,208.12 L98.70,208.10 L99.94,208.09 L101.20,208.08 L102.47,208.06 L103.75,208.05 L105.04,208.04 L106.34,208.02 L107.66,208.01 L108.99,207.99 L110.34,207.97 L111.69,207.96 L113.06,207.94 L114.44,207.92 L115.83,207.91 L117.24,207.89 L118.65,207.87 L120.08,207.85 L121.53,207.84 L122.98,207.82 L124.45,207.80 L125.93,207.78 L127.42,207.76 L128.92,207.74 L130.44,207.73 L131.97,207.71 L133.51,207.69 L135.07,207.67 L136.64,207.65 L138.22,207.63 L139.81,207.61 L141.41,207.59 L143.03,207.57 L144.66,207.56 L146.30,207.54 L147.96,207.52 L149.63,207.50 L150.00,207.50 L151.31,207.49 L153.00,207.47 L154.70,207.45 L156.42,207.43 L158.15,207.42 L159.89,207.40 L161.65,207.38 L163.41,207.36 L165.19,207.34 L166.98,207.32 L168.79,207.30 L170.61,207.28 L172.44,207.26 L174.28,207.24 L176.13,207.22 L178.00,207.20" fill="none" stroke="#000" stroke-width="1.45" stroke-linecap="round" stroke-linejoin="round"/><circle cx="38.60" cy="128.50" r="2.65" fill="url(#g_orange)"/><circle cx="40.00" cy="121.19" r="2.65" fill="url(#g_orange)"/><circle cx="43.90" cy="120.10" r="2.65" fill="url(#g_orange)"/><circle cx="48.30" cy="119.83" r="2.65" fill="url(#g_orange)"/><circle cx="53.50" cy="119.68" r="2.65" fill="url(#g_orange)"/><circle cx="69.80" cy="119.27" r="2.65" fill="url(#g_orange)"/><circle cx="90.80" cy="118.80" r="2.65" fill="url(#g_orange)"/><circle cx="108.80" cy="118.57" r="2.65" fill="url(#g_orange)"/><circle cx="125.30" cy="118.39" r="2.65" fill="url(#g_orange)"/><circle cx="144.60" cy="118.20" r="2.65" fill="url(#g_orange)"/><circle cx="163.00" cy="118.00" r="2.65" fill="url(#g_orange)"/><circle cx="183.10" cy="117.81" r="2.65" fill="url(#g_orange)"/><circle cx="200.70" cy="117.67" r="2.65" fill="url(#g_orange)"/><circle cx="219.50" cy="117.54" r="2.65" fill="url(#g_orange)"/><circle cx="225.70" cy="117.50" r="2.65" fill="url(#g_orange)"/><path d="M37.50,126.50 L37.51,126.46 L37.53,126.33 L37.58,126.10 L37.63,125.77 L37.71,125.37 L37.80,125.00 L37.80,125.00 L37.91,124.68 L38.04,124.33 L38.18,123.97 L38.34,123.59 L38.51,123.22 L38.70,122.86 L38.91,122.52 L39.14,122.23 L39.38,121.99 L39.50,121.90 L39.64,121.81 L39.92,121.64 L40.21,121.47 L40.52,121.32 L40.84,121.17 L41.19,121.03 L41.55,120.91 L41.92,120.80 L42.32,120.71 L42.73,120.64 L43.00,120.60 L43.15,120.58 L43.59,120.53 L44.05,120.49 L44.53,120.45 L45.02,120.41 L45.53,120.37 L46.06,120.34 L46.60,120.31 L47.16,120.28 L47.74,120.26 L48.33,120.23 L48.94,120.21 L49.20,120.20 L49.57,120.19 L50.22,120.17 L50.88,120.15 L51.55,120.13 L52.25,120.11 L52.96,120.09 L53.68,120.08 L54.43,120.06 L55.19,120.04 L55.97,120.03 L56.76,120.02 L57.57,120.00 L58.40,119.98 L59.24,119.97 L60.11,119.95 L60.98,119.93 L61.88,119.91 L62.30,119.90 L62.79,119.89 L63.72,119.86 L64.66,119.83 L65.62,119.80 L66.60,119.77 L67.60,119.74 L68.61,119.71 L69.64,119.67 L70.68,119.64 L71.74,119.60 L72.82,119.57 L73.92,119.54 L75.03,119.51 L75.50,119.50 L76.16,119.48 L77.30,119.46 L78.46,119.43 L79.64,119.41 L80.84,119.38 L82.05,119.35 L83.28,119.33 L84.53,119.31 L85.79,119.28 L87.07,119.26 L88.36,119.24 L89.67,119.22 L90.80,119.20 L91.00,119.20 L92.35,119.18 L93.71,119.16 L95.09,119.14 L96.49,119.12 L97.90,119.10 L99.33,119.08 L100.78,119.06 L102.24,119.04 L103.72,119.03 L105.22,119.01 L106.73,118.99 L108.26,118.97 L109.81,118.95 L111.37,118.94 L112.95,118.92 L114.55,118.90 L116.16,118.89 L117.79,118.87 L119.44,118.85 L121.10,118.84 L122.78,118.82 L124.48,118.80 L126.19,118.78 L127.92,118.77 L129.67,118.75 L131.43,118.73 L133.21,118.71 L135.01,118.70 L136.83,118.68 L138.66,118.66 L140.50,118.64 L142.37,118.62 L144.25,118.60 L144.50,118.60 L146.15,118.58 L148.06,118.56 L149.99,118.54 L151.94,118.52 L153.90,118.50 L155.89,118.48 L157.88,118.46 L159.90,118.44 L161.93,118.41 L163.98,118.39 L166.04,118.37 L168.12,118.35 L170.22,118.33 L172.34,118.31 L174.47,118.29 L176.62,118.27 L178.78,118.25 L180.97,118.23 L183.16,118.21 L184.00,118.20 L185.38,118.19 L187.61,118.17 L189.86,118.15 L192.13,118.13 L194.41,118.12 L196.71,118.10 L199.02,118.08 L201.36,118.07 L203.71,118.05 L206.07,118.03 L208.45,118.02 L210.85,118.00 L213.27,117.99 L215.70,117.97 L218.15,117.95 L220.62,117.94 L223.10,117.92 L225.60,117.90" fill="none" stroke="#000" stroke-width="1.45" stroke-linecap="round" stroke-linejoin="round"/><circle cx="38.60" cy="105.00" r="2.65" fill="url(#g_lblue)"/><circle cx="40.00" cy="96.22" r="2.65" fill="url(#g_lblue)"/><circle cx="43.00" cy="94.85" r="2.65" fill="url(#g_lblue)"/><circle cx="49.20" cy="93.96" r="2.65" fill="url(#g_lblue)"/><circle cx="56.20" cy="93.39" r="2.65" fill="url(#g_lblue)"/><circle cx="65.80" cy="92.80" r="2.65" fill="url(#g_lblue)"/><circle cx="75.00" cy="92.32" r="2.65" fill="url(#g_lblue)"/><circle cx="86.60" cy="91.79" r="2.65" fill="url(#g_lblue)"/><circle cx="102.90" cy="91.12" r="2.65" fill="url(#g_lblue)"/><circle cx="119.30" cy="90.60" r="2.65" fill="url(#g_lblue)"/><circle cx="136.80" cy="90.22" r="2.65" fill="url(#g_lblue)"/><circle cx="154.30" cy="89.93" r="2.65" fill="url(#g_lblue)"/><circle cx="169.70" cy="89.70" r="2.65" fill="url(#g_lblue)"/><circle cx="186.40" cy="89.49" r="2.65" fill="url(#g_lblue)"/><circle cx="203.30" cy="89.31" r="2.65" fill="url(#g_lblue)"/><circle cx="218.40" cy="89.15" r="2.65" fill="url(#g_lblue)"/><circle cx="235.50" cy="88.92" r="2.65" fill="url(#g_lblue)"/><circle cx="253.90" cy="88.62" r="2.65" fill="url(#g_lblue)"/><circle cx="270.30" cy="88.33" r="2.65" fill="url(#g_lblue)"/><circle cx="284.10" cy="88.10" r="2.65" fill="url(#g_lblue)"/><path d="M37.50,102.50 L37.51,102.44 L37.54,102.26 L37.60,101.94 L37.68,101.50 L37.77,101.01 L37.80,100.90 L37.89,100.54 L38.04,100.03 L38.20,99.48 L38.39,98.92 L38.59,98.36 L38.82,97.85 L39.08,97.43 L39.10,97.40 L39.35,97.09 L39.65,96.76 L39.96,96.45 L40.30,96.17 L40.66,95.92 L41.05,95.71 L41.30,95.60 L41.45,95.54 L41.88,95.38 L42.33,95.24 L42.80,95.10 L43.29,94.98 L43.81,94.87 L44.34,94.78 L44.80,94.70 L44.90,94.68 L45.48,94.60 L46.08,94.51 L46.71,94.43 L47.35,94.36 L48.02,94.28 L48.71,94.21 L49.42,94.14 L50.15,94.08 L50.91,94.01 L51.69,93.95 L52.49,93.88 L53.31,93.82 L53.50,93.80 L54.15,93.75 L55.01,93.68 L55.90,93.61 L56.81,93.55 L57.74,93.49 L58.69,93.42 L59.67,93.36 L60.66,93.30 L61.68,93.24 L62.30,93.20 L62.72,93.17 L63.78,93.11 L64.87,93.05 L65.97,92.99 L67.10,92.92 L68.25,92.86 L69.42,92.80 L70.61,92.74 L71.83,92.68 L73.07,92.62 L74.32,92.55 L75.50,92.50 L75.61,92.50 L76.91,92.44 L78.23,92.37 L79.58,92.31 L80.95,92.25 L82.34,92.19 L83.75,92.12 L85.18,92.06 L86.64,91.99 L88.12,91.93 L89.62,91.86 L91.14,91.79 L92.68,91.73 L94.25,91.66 L95.83,91.60 L97.44,91.53 L99.08,91.46 L100.73,91.40 L102.40,91.34 L104.10,91.27 L105.82,91.21 L107.56,91.15 L109.32,91.09 L111.11,91.03 L112.91,90.98 L114.74,90.92 L116.59,90.87 L118.46,90.82 L119.30,90.80 L120.36,90.77 L122.27,90.73 L124.21,90.68 L126.17,90.64 L128.15,90.60 L130.15,90.55 L132.18,90.51 L134.22,90.47 L136.29,90.43 L138.38,90.39 L140.50,90.36 L142.63,90.32 L144.79,90.28 L146.97,90.25 L149.17,90.21 L151.39,90.17 L153.63,90.14 L155.90,90.10 L158.19,90.07 L160.50,90.04 L162.83,90.00 L165.18,89.97 L167.56,89.93 L169.95,89.90 L170.00,89.90 L172.37,89.87 L174.81,89.83 L177.28,89.80 L179.76,89.77 L182.27,89.74 L184.80,89.71 L187.35,89.68 L189.92,89.65 L192.52,89.63 L195.13,89.60 L197.77,89.57 L200.43,89.54 L203.11,89.51 L205.82,89.49 L208.54,89.46 L211.29,89.43 L214.06,89.40 L216.85,89.36 L219.66,89.33 L222.50,89.30 L225.36,89.26 L228.23,89.22 L230.00,89.20 L231.14,89.18 L234.06,89.14 L237.00,89.10 L239.97,89.05 L242.96,89.01 L245.97,88.96 L249.00,88.91 L252.05,88.85 L255.13,88.80 L258.23,88.75 L261.35,88.69 L264.49,88.64 L267.65,88.58 L270.84,88.52 L274.05,88.47 L277.28,88.41 L280.53,88.36 L283.80,88.30" fill="none" stroke="#000" stroke-width="1.45" stroke-linecap="round" stroke-linejoin="round"/><circle cx="38.40" cy="88.30" r="2.65" fill="url(#g_lgreen)"/><circle cx="38.87" cy="85.80" r="2.65" fill="url(#g_lgreen)"/><circle cx="39.64" cy="83.30" r="2.65" fill="url(#g_lgreen)"/><circle cx="40.42" cy="80.80" r="2.65" fill="url(#g_lgreen)"/><circle cx="41.08" cy="78.30" r="2.65" fill="url(#g_lgreen)"/><circle cx="41.69" cy="75.80" r="2.65" fill="url(#g_lgreen)"/><circle cx="42.29" cy="73.30" r="2.65" fill="url(#g_lgreen)"/><circle cx="42.76" cy="70.80" r="2.65" fill="url(#g_lgreen)"/><circle cx="43.09" cy="68.30" r="2.65" fill="url(#g_lgreen)"/><circle cx="43.30" cy="67.20" r="2.65" fill="url(#g_lgreen)"/><circle cx="43.00" cy="60.40" r="2.65" fill="url(#g_lgreen)"/><circle cx="43.60" cy="53.80" r="2.65" fill="url(#g_lgreen)"/><circle cx="43.70" cy="47.00" r="2.65" fill="url(#g_lgreen)"/><circle cx="43.80" cy="40.20" r="2.65" fill="url(#g_lgreen)"/><circle cx="44.60" cy="33.80" r="2.65" fill="url(#g_lgreen)"/><circle cx="44.60" cy="31.60" r="2.65" fill="url(#g_lgreen)"/><path d="M37.60,87.30 C37.98,86.07 39.20,82.45 39.90,79.90 C40.60,77.35 41.28,74.82 41.80,72.00 C42.32,69.18 42.70,66.33 43.00,63.00 C43.30,59.67 43.43,55.33 43.60,52.00 C43.77,48.67 43.82,46.50 44.00,43.00 C44.18,39.50 44.58,33.00 44.70,31.00" fill="none" stroke="#000" stroke-width="1.45" stroke-linecap="round" stroke-linejoin="round"/></g><text x="184.0" y="142.1" font-size="12" text-anchor="start">6.48MPa</text><text x="184.0" y="152.8" font-size="12" text-anchor="start">5.68MPa</text><text x="184.0" y="163.5" font-size="12" text-anchor="start">4.88MPa</text><text x="184.0" y="173.4" font-size="12" text-anchor="start">4.08MPa</text><text x="184.0" y="182.9" font-size="12" text-anchor="start">3.28MPa</text><text x="184.0" y="193.1" font-size="12" text-anchor="start">2.48MPa</text><text x="183.6" y="203.0" font-size="12" text-anchor="start">1.68MPa</text><text x="184.0" y="214.2" font-size="12" text-anchor="start">0.88MPa</text><text x="49.7" y="35.1" font-size="12" text-anchor="start">10.48MPa</text><text x="272.3" y="103.4" font-size="12" text-anchor="start">9.68MPa</text><text x="230.8" y="121.9" font-size="12" text-anchor="start">8.08MPa</text><path d="M392.0,9.500000000000028 L392.0,220.9 L675.3,220.9" fill="none" stroke="#3a3a3a" stroke-width="1"/><path d="M448.66,220.9 L448.66,216.5 M505.32,220.9 L505.32,216.5 M561.98,220.9 L561.98,216.5 M618.64,220.9 L618.64,216.5 M675.30,220.9 L675.30,216.5 M392.0,190.70 L396.4,190.70 M392.0,160.50 L396.4,160.50 M392.0,130.30 L396.4,130.30 M392.0,100.10 L396.4,100.10 M392.0,69.90 L396.4,69.90 M392.0,39.70 L396.4,39.70 M392.0,9.50 L396.4,9.50" fill="none" stroke="#3a3a3a" stroke-width="1"/><text x="392.00" y="233.80" font-size="13.4" text-anchor="middle">0</text><text x="448.66" y="233.80" font-size="13.4" text-anchor="middle">4</text><text x="505.32" y="233.80" font-size="13.4" text-anchor="middle">8</text><text x="561.98" y="233.80" font-size="13.4" text-anchor="middle">12</text><text x="618.64" y="233.80" font-size="13.4" text-anchor="middle">16</text><text x="675.30" y="233.80" font-size="13.4" text-anchor="middle">20</text><text x="386.60" y="224.50" font-size="13.4" text-anchor="end">0.4</text><text x="386.60" y="194.30" font-size="13.4" text-anchor="end">0.6</text><text x="386.60" y="164.10" font-size="13.4" text-anchor="end">0.8</text><text x="386.60" y="133.90" font-size="13.4" text-anchor="end">1.0</text><text x="386.60" y="103.70" font-size="13.4" text-anchor="end">1.2</text><text x="386.60" y="73.50" font-size="13.4" text-anchor="end">1.4</text><text x="386.60" y="43.30" font-size="13.4" text-anchor="end">1.6</text><text x="386.60" y="13.10" font-size="13.4" text-anchor="end">1.8</text><text transform="translate(366.3,115.6) rotate(-90)" font-size="14.6" text-anchor="middle"><tspan font-style="italic">ε</tspan>/%</text><text x="520.8" y="246.6" font-size="15" text-anchor="middle" font-style="italic">t/h</text><text x="523.2" y="267.9" font-size="15.4" text-anchor="middle">b. <tspan font-style="italic">w</tspan>=4.56%</text><g clip-path="url(#cB)"><circle cx="392.90" cy="98.30" r="2.65" fill="url(#g_bpurple)"/><circle cx="394.20" cy="87.20" r="2.65" fill="url(#g_bpurple)"/><circle cx="395.00" cy="81.80" r="2.65" fill="url(#g_bpurple)"/><circle cx="399.10" cy="78.10" r="2.65" fill="url(#g_bpurple)"/><circle cx="404.00" cy="75.20" r="2.65" fill="url(#g_bpurple)"/><circle cx="409.00" cy="72.80" r="2.65" fill="url(#g_bpurple)"/><circle cx="414.30" cy="70.70" r="2.65" fill="url(#g_bpurple)"/><circle cx="420.10" cy="69.00" r="2.65" fill="url(#g_bpurple)"/><circle cx="425.40" cy="67.40" r="2.65" fill="url(#g_bpurple)"/><circle cx="430.10" cy="66.60" r="2.65" fill="url(#g_bpurple)"/><circle cx="435.20" cy="65.20" r="2.65" fill="url(#g_bpurple)"/><circle cx="440.30" cy="64.10" r="2.65" fill="url(#g_bpurple)"/><circle cx="445.40" cy="63.00" r="2.65" fill="url(#g_bpurple)"/><circle cx="450.50" cy="61.50" r="2.65" fill="url(#g_bpurple)"/><circle cx="455.70" cy="60.40" r="2.65" fill="url(#g_bpurple)"/><circle cx="460.40" cy="59.30" r="2.65" fill="url(#g_bpurple)"/><circle cx="465.50" cy="58.20" r="2.65" fill="url(#g_bpurple)"/><circle cx="470.60" cy="57.50" r="2.65" fill="url(#g_bpurple)"/><circle cx="475.80" cy="55.50" r="2.65" fill="url(#g_bpurple)"/><circle cx="481.00" cy="54.10" r="2.65" fill="url(#g_bpurple)"/><circle cx="485.70" cy="53.40" r="2.65" fill="url(#g_bpurple)"/><circle cx="490.80" cy="51.90" r="2.65" fill="url(#g_bpurple)"/><circle cx="495.90" cy="50.10" r="2.65" fill="url(#g_bpurple)"/><circle cx="501.80" cy="48.80" r="2.65" fill="url(#g_bpurple)"/><circle cx="507.60" cy="46.90" r="2.65" fill="url(#g_bpurple)"/><circle cx="512.30" cy="38.20" r="2.65" fill="url(#g_bpurple)"/><path d="M392.10,99.50 C392.13,98.13 392.17,93.50 392.30,91.30 C392.43,89.10 392.52,87.68 392.90,86.30 C393.28,84.92 393.90,83.88 394.60,83.00 C395.30,82.12 396.00,81.75 397.10,81.00 C398.20,80.25 399.70,79.33 401.20,78.50 C402.70,77.67 404.18,76.88 406.10,76.00 C408.02,75.12 410.23,74.22 412.70,73.20 C415.17,72.18 418.35,70.88 420.90,69.90 C423.45,68.92 424.82,68.23 428.00,67.30 C431.18,66.37 436.33,65.22 440.00,64.30 C443.67,63.38 446.67,62.62 450.00,61.80 C453.33,60.98 456.67,60.18 460.00,59.40 C463.33,58.62 466.63,57.90 470.00,57.10 C473.37,56.30 476.80,55.35 480.20,54.60 C483.60,53.85 487.23,53.20 490.40,52.60 C493.57,52.00 496.88,51.50 499.20,51.00 C501.52,50.50 502.83,50.23 504.30,49.60 C505.77,48.97 506.97,48.22 508.00,47.20 C509.03,46.18 509.78,44.90 510.50,43.50 C511.22,42.10 512.00,39.58 512.30,38.80" fill="none" stroke="#000" stroke-width="1.45" stroke-linecap="round" stroke-linejoin="round"/><circle cx="392.90" cy="135.30" r="2.65" fill="url(#g_green)"/><circle cx="393.60" cy="132.00" r="2.65" fill="url(#g_green)"/><circle cx="399.00" cy="128.90" r="2.65" fill="url(#g_green)"/><circle cx="405.00" cy="128.03" r="2.65" fill="url(#g_green)"/><circle cx="413.20" cy="127.00" r="2.65" fill="url(#g_green)"/><circle cx="422.60" cy="126.13" r="2.65" fill="url(#g_green)"/><circle cx="434.10" cy="125.50" r="2.65" fill="url(#g_green)"/><circle cx="446.20" cy="124.94" r="2.65" fill="url(#g_green)"/><circle cx="461.10" cy="124.37" r="2.65" fill="url(#g_green)"/><circle cx="476.00" cy="123.95" r="2.65" fill="url(#g_green)"/><circle cx="490.90" cy="123.62" r="2.65" fill="url(#g_green)"/><circle cx="508.20" cy="123.30" r="2.65" fill="url(#g_green)"/><circle cx="526.40" cy="123.00" r="2.65" fill="url(#g_green)"/><circle cx="540.50" cy="122.80" r="2.65" fill="url(#g_green)"/><circle cx="554.10" cy="122.62" r="2.65" fill="url(#g_green)"/><circle cx="576.00" cy="122.30" r="2.65" fill="url(#g_green)"/><circle cx="593.40" cy="122.01" r="2.65" fill="url(#g_green)"/><circle cx="605.00" cy="121.81" r="2.65" fill="url(#g_green)"/><path d="M392.20,136.00 L392.21,135.95 L392.24,135.80 L392.29,135.54 L392.35,135.15 L392.44,134.63 L392.54,134.00 L392.66,133.32 L392.81,132.72 L392.90,132.50 L392.97,132.40 L393.15,132.15 L393.35,131.91 L393.56,131.68 L393.80,131.46 L394.06,131.26 L394.33,131.09 L394.63,130.92 L394.94,130.77 L395.27,130.62 L395.62,130.44 L395.70,130.40 L395.99,130.24 L396.38,130.04 L396.79,129.83 L397.21,129.63 L397.66,129.44 L398.12,129.26 L398.61,129.10 L399.00,129.00 L399.11,128.98 L399.63,128.87 L400.17,128.77 L400.73,128.68 L401.31,128.60 L401.90,128.52 L402.52,128.44 L403.15,128.37 L403.81,128.29 L404.48,128.20 L404.50,128.20 L405.17,128.11 L405.88,128.01 L406.61,127.91 L407.36,127.81 L408.13,127.71 L408.91,127.61 L409.72,127.51 L410.54,127.40 L411.39,127.30 L412.25,127.20 L413.13,127.11 L413.20,127.10 L414.03,127.01 L414.95,126.92 L415.89,126.82 L416.85,126.73 L417.82,126.63 L418.82,126.54 L419.83,126.45 L420.86,126.37 L421.92,126.29 L422.99,126.21 L423.10,126.20 L424.08,126.14 L425.18,126.07 L426.31,126.00 L427.46,125.94 L428.62,125.87 L429.81,125.81 L431.01,125.75 L432.23,125.69 L433.48,125.63 L434.10,125.60 L434.74,125.57 L436.01,125.51 L437.31,125.44 L438.63,125.38 L439.97,125.32 L441.32,125.25 L442.70,125.19 L444.09,125.13 L445.50,125.07 L446.93,125.01 L447.20,125.00 L448.38,124.95 L449.85,124.89 L451.34,124.84 L452.84,124.78 L454.37,124.72 L455.91,124.66 L457.48,124.60 L459.06,124.54 L460.66,124.49 L462.28,124.43 L463.92,124.38 L465.58,124.33 L467.26,124.28 L468.95,124.23 L470.00,124.20 L470.67,124.18 L472.40,124.14 L474.15,124.09 L475.93,124.05 L477.72,124.01 L479.53,123.96 L481.36,123.92 L483.20,123.88 L485.07,123.84 L486.96,123.80 L488.86,123.76 L490.78,123.72 L492.73,123.68 L494.69,123.64 L496.67,123.61 L498.67,123.57 L500.69,123.53 L502.72,123.49 L504.78,123.46 L506.85,123.42 L508.95,123.39 L511.06,123.35 L513.19,123.31 L515.34,123.28 L517.51,123.24 L519.70,123.20 L520.00,123.20 L521.91,123.17 L524.14,123.13 L526.38,123.10 L528.65,123.07 L530.93,123.03 L533.23,123.00 L535.56,122.97 L537.90,122.94 L540.26,122.91 L542.63,122.87 L545.03,122.84 L547.45,122.81 L549.88,122.78 L552.34,122.75 L554.81,122.72 L557.30,122.68 L559.81,122.65 L562.34,122.61 L564.89,122.58 L567.46,122.54 L570.00,122.50 L570.05,122.50 L572.65,122.46 L575.28,122.42 L577.92,122.37 L580.58,122.33 L583.27,122.28 L585.97,122.24 L588.69,122.19 L591.42,122.14 L594.18,122.09 L596.96,122.05 L599.75,122.00 L602.57,121.95 L605.40,121.90" fill="none" stroke="#000" stroke-width="1.45" stroke-linecap="round" stroke-linejoin="round"/><circle cx="392.40" cy="168.70" r="2.65" fill="url(#g_blue)"/><circle cx="393.80" cy="165.00" r="2.65" fill="url(#g_blue)"/><circle cx="396.80" cy="161.97" r="2.65" fill="url(#g_blue)"/><circle cx="402.30" cy="161.05" r="2.65" fill="url(#g_blue)"/><circle cx="408.80" cy="160.40" r="2.65" fill="url(#g_blue)"/><circle cx="419.30" cy="159.53" r="2.65" fill="url(#g_blue)"/><circle cx="439.00" cy="158.48" r="2.65" fill="url(#g_blue)"/><circle cx="461.10" cy="157.71" r="2.65" fill="url(#g_blue)"/><circle cx="479.70" cy="157.31" r="2.65" fill="url(#g_blue)"/><circle cx="495.80" cy="157.08" r="2.65" fill="url(#g_blue)"/><circle cx="512.00" cy="156.90" r="2.65" fill="url(#g_blue)"/><circle cx="531.80" cy="156.68" r="2.65" fill="url(#g_blue)"/><circle cx="549.20" cy="156.46" r="2.65" fill="url(#g_blue)"/><circle cx="565.30" cy="156.26" r="2.65" fill="url(#g_blue)"/><circle cx="581.40" cy="156.07" r="2.65" fill="url(#g_blue)"/><circle cx="595.10" cy="155.93" r="2.65" fill="url(#g_blue)"/><circle cx="606.40" cy="155.81" r="2.65" fill="url(#g_blue)"/><path d="M392.20,169.00 L392.21,168.94 L392.24,168.75 L392.29,168.42 L392.35,167.92 L392.44,167.25 L392.54,166.44 L392.67,165.58 L392.81,164.85 L392.90,164.60 L392.97,164.48 L393.15,164.21 L393.35,163.94 L393.57,163.68 L393.81,163.43 L394.07,163.21 L394.35,163.01 L394.64,162.83 L394.96,162.68 L395.29,162.54 L395.64,162.42 L395.70,162.40 L396.02,162.30 L396.41,162.18 L396.82,162.07 L397.25,161.96 L397.70,161.86 L398.16,161.77 L398.65,161.68 L399.16,161.59 L399.68,161.51 L400.23,161.44 L400.79,161.36 L401.20,161.30 L401.37,161.28 L401.97,161.20 L402.59,161.12 L403.23,161.04 L403.89,160.97 L404.57,160.90 L405.26,160.83 L405.98,160.76 L406.71,160.69 L407.47,160.62 L408.24,160.55 L408.80,160.50 L409.03,160.48 L409.84,160.40 L410.67,160.33 L411.52,160.25 L412.39,160.18 L413.28,160.10 L414.19,160.02 L415.11,159.95 L416.06,159.87 L417.02,159.80 L418.00,159.72 L419.00,159.65 L419.80,159.60 L420.03,159.59 L421.07,159.52 L422.12,159.45 L423.20,159.39 L424.30,159.32 L425.42,159.26 L426.55,159.19 L427.71,159.13 L428.88,159.07 L430.07,159.01 L431.28,158.95 L432.52,158.88 L433.77,158.82 L435.04,158.76 L436.32,158.70 L437.63,158.64 L438.50,158.60 L438.96,158.58 L440.30,158.52 L441.67,158.45 L443.05,158.39 L444.45,158.33 L445.88,158.28 L447.32,158.22 L448.00,158.20 L448.78,158.17 L450.25,158.13 L451.75,158.08 L453.27,158.03 L454.81,157.99 L456.36,157.94 L457.94,157.90 L459.53,157.85 L461.14,157.81 L462.77,157.77 L464.43,157.72 L466.09,157.68 L467.78,157.64 L469.49,157.60 L471.22,157.57 L472.97,157.53 L474.73,157.50 L476.52,157.46 L478.32,157.43 L480.00,157.40 L480.14,157.40 L481.98,157.37 L483.84,157.34 L485.72,157.31 L487.62,157.28 L489.54,157.26 L491.48,157.23 L493.43,157.21 L495.41,157.18 L497.40,157.16 L499.42,157.13 L501.45,157.11 L503.50,157.09 L505.57,157.07 L507.66,157.04 L509.77,157.02 L511.90,157.00 L514.04,156.98 L516.21,156.95 L518.40,156.93 L520.60,156.91 L522.82,156.88 L525.07,156.86 L527.33,156.83 L529.61,156.80 L530.00,156.80 L531.91,156.78 L534.23,156.75 L536.56,156.72 L538.92,156.69 L541.30,156.66 L543.69,156.63 L546.11,156.60 L548.54,156.57 L550.99,156.53 L553.46,156.50 L555.95,156.47 L558.46,156.44 L560.99,156.41 L563.54,156.38 L566.11,156.35 L568.69,156.32 L570.00,156.30 L571.30,156.29 L573.92,156.26 L576.57,156.23 L579.23,156.20 L581.91,156.17 L584.61,156.14 L587.33,156.11 L590.07,156.08 L592.83,156.05 L595.60,156.02 L598.40,155.99 L601.21,155.96 L604.05,155.93 L606.90,155.90" fill="none" stroke="#000" stroke-width="1.45" stroke-linecap="round" stroke-linejoin="round"/><circle cx="392.30" cy="211.00" r="2.65" fill="url(#g_red)"/><circle cx="392.90" cy="205.40" r="2.65" fill="url(#g_red)"/><circle cx="394.70" cy="202.20" r="2.65" fill="url(#g_red)"/><circle cx="398.00" cy="200.10" r="2.65" fill="url(#g_red)"/><circle cx="404.00" cy="198.20" r="2.65" fill="url(#g_red)"/><circle cx="411.30" cy="196.62" r="2.65" fill="url(#g_red)"/><circle cx="419.10" cy="195.51" r="2.65" fill="url(#g_red)"/><circle cx="428.00" cy="194.55" r="2.65" fill="url(#g_red)"/><circle cx="436.50" cy="193.78" r="2.65" fill="url(#g_red)"/><circle cx="445.80" cy="193.06" r="2.65" fill="url(#g_red)"/><circle cx="457.20" cy="192.28" r="2.65" fill="url(#g_red)"/><circle cx="468.80" cy="191.57" r="2.65" fill="url(#g_red)"/><circle cx="480.90" cy="190.89" r="2.65" fill="url(#g_red)"/><circle cx="493.30" cy="190.24" r="2.65" fill="url(#g_red)"/><circle cx="503.20" cy="189.74" r="2.65" fill="url(#g_red)"/><circle cx="517.10" cy="189.03" r="2.65" fill="url(#g_red)"/><circle cx="532.00" cy="188.26" r="2.65" fill="url(#g_red)"/><circle cx="545.00" cy="187.71" r="2.65" fill="url(#g_red)"/><circle cx="558.70" cy="187.24" r="2.65" fill="url(#g_red)"/><circle cx="572.40" cy="186.83" r="2.65" fill="url(#g_red)"/><circle cx="591.60" cy="186.35" r="2.65" fill="url(#g_red)"/><circle cx="608.90" cy="185.93" r="2.65" fill="url(#g_red)"/><circle cx="621.70" cy="185.59" r="2.65" fill="url(#g_red)"/><circle cx="635.00" cy="185.24" r="2.65" fill="url(#g_red)"/><circle cx="651.20" cy="184.81" r="2.65" fill="url(#g_red)"/><path d="M392.20,212.00 L392.21,211.89 L392.25,211.56 L392.30,210.96 L392.38,210.07 L392.49,208.91 L392.61,207.55 L392.76,206.23 L392.90,205.50 L392.94,205.38 L393.13,204.79 L393.35,204.24 L393.59,203.73 L393.86,203.28 L394.15,202.89 L394.46,202.54 L394.70,202.30 L394.79,202.21 L395.15,201.89 L395.53,201.58 L395.93,201.29 L396.36,201.02 L396.81,200.77 L397.28,200.53 L397.78,200.30 L398.00,200.20 L398.30,200.07 L398.84,199.85 L399.40,199.64 L399.99,199.44 L400.60,199.24 L401.24,199.04 L401.89,198.86 L402.57,198.67 L403.27,198.49 L404.00,198.30 L404.00,198.30 L404.75,198.11 L405.52,197.92 L406.32,197.73 L407.14,197.55 L407.98,197.37 L408.84,197.19 L409.73,197.01 L410.64,196.84 L411.57,196.67 L412.00,196.60 L412.53,196.51 L413.51,196.36 L414.51,196.21 L415.54,196.06 L416.59,195.92 L417.66,195.78 L418.75,195.65 L419.87,195.52 L420.00,195.50 L421.01,195.38 L422.18,195.25 L423.36,195.13 L424.57,195.00 L425.81,194.87 L427.06,194.74 L428.34,194.62 L429.64,194.49 L430.97,194.37 L432.32,194.25 L433.69,194.13 L435.08,194.00 L436.50,193.88 L437.94,193.77 L439.40,193.65 L440.00,193.60 L440.89,193.53 L442.40,193.41 L443.93,193.30 L445.49,193.18 L447.07,193.07 L448.67,192.95 L450.29,192.84 L451.94,192.73 L453.61,192.62 L455.31,192.50 L457.02,192.39 L458.77,192.28 L460.53,192.17 L462.31,192.06 L464.12,191.95 L465.96,191.84 L467.81,191.73 L469.69,191.62 L470.00,191.60 L471.59,191.51 L473.52,191.40 L475.46,191.29 L477.43,191.18 L479.43,191.07 L481.45,190.96 L483.49,190.85 L485.55,190.74 L487.63,190.63 L489.74,190.52 L491.87,190.41 L494.03,190.31 L496.21,190.20 L498.41,190.08 L500.63,189.97 L502.88,189.86 L505.15,189.75 L507.44,189.63 L509.76,189.51 L510.00,189.50 L512.10,189.39 L514.46,189.27 L516.85,189.14 L519.26,189.01 L521.69,188.88 L524.14,188.75 L526.62,188.62 L529.12,188.50 L531.65,188.37 L534.19,188.25 L536.76,188.14 L539.36,188.03 L540.00,188.00 L541.97,187.92 L544.61,187.82 L547.27,187.72 L549.96,187.63 L552.67,187.54 L555.40,187.44 L558.15,187.36 L560.93,187.27 L563.73,187.18 L566.55,187.10 L569.40,187.02 L570.00,187.00 L572.27,186.94 L575.16,186.86 L578.08,186.78 L581.02,186.70 L583.98,186.63 L586.96,186.56 L589.97,186.49 L593.00,186.41 L596.06,186.34 L599.13,186.27 L602.23,186.19 L605.36,186.12 L608.50,186.04 L610.00,186.00 L611.67,185.96 L614.86,185.87 L618.08,185.79 L621.32,185.70 L624.58,185.62 L627.86,185.53 L631.17,185.44 L634.50,185.35 L637.86,185.26 L641.23,185.17 L644.63,185.08 L648.05,184.99 L651.50,184.90" fill="none" stroke="#000" stroke-width="1.45" stroke-linecap="round" stroke-linejoin="round"/></g><text x="518.0" y="44.1" font-size="12" text-anchor="start">3.28MPa</text><text x="610.0" y="125.4" font-size="12" text-anchor="start">2.48MPa</text><text x="612.2" y="160.9" font-size="12" text-anchor="start">1.68MPa</text><text x="634.2" y="200.1" font-size="12" text-anchor="start">0.88MPa</text><path d="M40.5,284.5 L40.5,499.5 L321.29999999999995,499.5" fill="none" stroke="#3a3a3a" stroke-width="1"/><path d="M96.66,499.5 L96.66,495.1 M152.82,499.5 L152.82,495.1 M208.98,499.5 L208.98,495.1 M265.14,499.5 L265.14,495.1 M321.30,499.5 L321.30,495.1 M40.5,478.00 L44.9,478.00 M40.5,456.50 L44.9,456.50 M40.5,435.00 L44.9,435.00 M40.5,413.50 L44.9,413.50 M40.5,392.00 L44.9,392.00 M40.5,370.50 L44.9,370.50 M40.5,349.00 L44.9,349.00 M40.5,327.50 L44.9,327.50 M40.5,306.00 L44.9,306.00 M40.5,284.50 L44.9,284.50" fill="none" stroke="#3a3a3a" stroke-width="1"/><text x="40.50" y="512.40" font-size="13.4" text-anchor="middle">0</text><text x="96.66" y="512.40" font-size="13.4" text-anchor="middle">4</text><text x="152.82" y="512.40" font-size="13.4" text-anchor="middle">8</text><text x="208.98" y="512.40" font-size="13.4" text-anchor="middle">12</text><text x="265.14" y="512.40" font-size="13.4" text-anchor="middle">16</text><text x="321.30" y="512.40" font-size="13.4" text-anchor="middle">20</text><text x="35.10" y="503.10" font-size="13.4" text-anchor="end">0.6</text><text x="35.10" y="481.60" font-size="13.4" text-anchor="end">0.8</text><text x="35.10" y="460.10" font-size="13.4" text-anchor="end">1.0</text><text x="35.10" y="438.60" font-size="13.4" text-anchor="end">1.2</text><text x="35.10" y="417.10" font-size="13.4" text-anchor="end">1.4</text><text x="35.10" y="395.60" font-size="13.4" text-anchor="end">1.6</text><text x="35.10" y="374.10" font-size="13.4" text-anchor="end">1.8</text><text x="35.10" y="352.60" font-size="13.4" text-anchor="end">2.0</text><text x="35.10" y="331.10" font-size="13.4" text-anchor="end">2.2</text><text x="35.10" y="309.60" font-size="13.4" text-anchor="end">2.4</text><text x="35.10" y="288.10" font-size="13.4" text-anchor="end">2.6</text><text transform="translate(12.9,392.0) rotate(-90)" font-size="14.6" text-anchor="middle"><tspan font-style="italic">ε</tspan>/%</text><text x="167.1" y="522.0" font-size="15" text-anchor="middle" font-style="italic">t/h</text><text x="167.9" y="543.8" font-size="15.4" text-anchor="middle">c. w=8.47%</text><g clip-path="url(#cC)"><circle cx="41.70" cy="374.00" r="2.65" fill="url(#g_green)"/><circle cx="41.80" cy="362.70" r="2.65" fill="url(#g_green)"/><circle cx="42.24" cy="358.00" r="2.65" fill="url(#g_green)"/><circle cx="42.43" cy="354.80" r="2.65" fill="url(#g_green)"/><circle cx="42.87" cy="351.60" r="2.65" fill="url(#g_green)"/><circle cx="43.32" cy="348.40" r="2.65" fill="url(#g_green)"/><circle cx="43.76" cy="345.20" r="2.65" fill="url(#g_green)"/><circle cx="44.29" cy="342.00" r="2.65" fill="url(#g_green)"/><circle cx="44.92" cy="338.80" r="2.65" fill="url(#g_green)"/><circle cx="45.55" cy="335.60" r="2.65" fill="url(#g_green)"/><circle cx="46.17" cy="332.40" r="2.65" fill="url(#g_green)"/><circle cx="46.76" cy="329.20" r="2.65" fill="url(#g_green)"/><circle cx="47.35" cy="326.00" r="2.65" fill="url(#g_green)"/><circle cx="47.91" cy="322.80" r="2.65" fill="url(#g_green)"/><circle cx="47.20" cy="320.80" r="2.65" fill="url(#g_green)"/><circle cx="47.20" cy="324.50" r="2.65" fill="url(#g_green)"/><circle cx="46.90" cy="307.20" r="2.65" fill="url(#g_green)"/><circle cx="47.20" cy="292.80" r="2.65" fill="url(#g_green)"/><path d="M40.70,368.00 C40.82,365.83 41.02,359.08 41.40,355.00 C41.78,350.92 42.40,347.12 43.00,343.50 C43.60,339.88 44.35,336.72 45.00,333.30 C45.65,329.88 46.52,326.42 46.90,323.00 C47.28,319.58 47.23,316.63 47.30,312.80 C47.37,308.97 47.30,303.60 47.30,300.00 C47.30,296.40 47.30,292.67 47.30,291.20" fill="none" stroke="#000" stroke-width="1.45" stroke-linecap="round" stroke-linejoin="round"/><circle cx="41.30" cy="432.00" r="2.65" fill="url(#g_blue)"/><circle cx="42.10" cy="423.20" r="2.65" fill="url(#g_blue)"/><circle cx="42.10" cy="417.10" r="2.65" fill="url(#g_blue)"/><circle cx="45.20" cy="412.68" r="2.65" fill="url(#g_blue)"/><circle cx="49.60" cy="410.09" r="2.65" fill="url(#g_blue)"/><circle cx="56.10" cy="408.10" r="2.65" fill="url(#g_blue)"/><circle cx="64.50" cy="406.30" r="2.65" fill="url(#g_blue)"/><circle cx="73.20" cy="404.66" r="2.65" fill="url(#g_blue)"/><circle cx="83.30" cy="403.70" r="2.65" fill="url(#g_blue)"/><circle cx="93.70" cy="402.95" r="2.65" fill="url(#g_blue)"/><circle cx="104.90" cy="402.24" r="2.65" fill="url(#g_blue)"/><circle cx="116.10" cy="401.59" r="2.65" fill="url(#g_blue)"/><circle cx="129.70" cy="400.82" r="2.65" fill="url(#g_blue)"/><circle cx="143.30" cy="400.01" r="2.65" fill="url(#g_blue)"/><circle cx="157.00" cy="399.22" r="2.65" fill="url(#g_blue)"/><circle cx="171.90" cy="398.50" r="2.65" fill="url(#g_blue)"/><circle cx="187.30" cy="397.98" r="2.65" fill="url(#g_blue)"/><circle cx="204.60" cy="397.49" r="2.65" fill="url(#g_blue)"/><circle cx="221.50" cy="397.02" r="2.65" fill="url(#g_blue)"/><circle cx="240.10" cy="396.51" r="2.65" fill="url(#g_blue)"/><circle cx="255.30" cy="396.11" r="2.65" fill="url(#g_blue)"/><path d="M40.50,433.00 L40.51,432.34 L40.54,430.19 L40.59,426.71 L40.62,425.00 L40.65,423.92 L40.74,421.69 L40.84,420.06 L40.85,420.00 L40.97,419.02 L41.11,418.18 L41.27,417.57 L41.30,417.50 L41.46,417.12 L41.66,416.69 L41.88,416.27 L42.11,415.88 L42.37,415.51 L42.65,415.17 L42.95,414.86 L43.26,414.57 L43.60,414.27 L43.90,414.00 L43.95,413.95 L44.32,413.62 L44.71,413.28 L45.12,412.94 L45.55,412.60 L46.00,412.27 L46.47,411.95 L46.96,411.63 L47.47,411.33 L47.99,411.04 L48.54,410.76 L49.10,410.50 L49.68,410.25 L50.28,410.02 L50.91,409.79 L51.55,409.57 L52.21,409.36 L52.88,409.16 L53.58,408.96 L54.30,408.77 L55.03,408.57 L55.79,408.38 L56.10,408.30 L56.56,408.18 L57.36,407.99 L58.17,407.80 L59.00,407.62 L59.85,407.44 L60.72,407.26 L61.61,407.08 L62.52,406.89 L63.44,406.71 L64.00,406.60 L64.39,406.52 L65.35,406.32 L66.34,406.12 L67.34,405.91 L68.36,405.71 L69.41,405.50 L70.47,405.30 L71.55,405.11 L72.64,404.94 L73.70,404.80 L73.76,404.79 L74.90,404.66 L76.06,404.53 L77.23,404.42 L78.43,404.30 L79.64,404.20 L80.87,404.10 L82.12,404.00 L83.30,403.90 L83.39,403.89 L84.68,403.79 L85.99,403.69 L87.32,403.59 L88.67,403.49 L90.04,403.40 L91.42,403.30 L92.83,403.21 L94.25,403.11 L95.69,403.02 L96.00,403.00 L97.15,402.93 L98.64,402.83 L100.14,402.74 L101.66,402.64 L103.19,402.55 L104.75,402.45 L106.33,402.36 L107.92,402.26 L109.54,402.17 L111.17,402.07 L112.83,401.97 L114.50,401.88 L116.19,401.78 L117.90,401.68 L119.63,401.59 L121.38,401.49 L123.15,401.39 L124.93,401.29 L126.74,401.18 L128.56,401.08 L130.00,401.00 L130.41,400.98 L132.27,400.87 L134.15,400.76 L136.06,400.65 L137.98,400.53 L139.92,400.42 L141.87,400.30 L143.85,400.18 L145.85,400.06 L147.87,399.94 L149.90,399.82 L151.96,399.70 L154.03,399.58 L156.12,399.47 L158.23,399.35 L160.36,399.24 L162.51,399.13 L164.68,399.02 L166.87,398.92 L169.08,398.82 L171.31,398.73 L172.00,398.70 L173.55,398.64 L175.82,398.56 L178.10,398.47 L180.40,398.40 L182.72,398.32 L185.07,398.24 L187.43,398.17 L189.81,398.10 L192.20,398.03 L194.62,397.96 L197.06,397.89 L199.51,397.83 L201.99,397.76 L204.48,397.69 L207.00,397.62 L209.53,397.55 L212.08,397.48 L214.65,397.41 L215.00,397.40 L217.24,397.34 L219.85,397.26 L222.48,397.19 L225.12,397.12 L227.79,397.04 L230.47,396.97 L233.18,396.90 L235.90,396.83 L238.64,396.75 L241.41,396.68 L244.19,396.60 L246.99,396.53 L249.80,396.45 L252.64,396.38 L255.50,396.30" fill="none" stroke="#000" stroke-width="1.45" stroke-linecap="round" stroke-linejoin="round"/><circle cx="41.30" cy="468.90" r="2.65" fill="url(#g_red)"/><circle cx="42.00" cy="462.00" r="2.65" fill="url(#g_red)"/><circle cx="44.30" cy="458.77" r="2.65" fill="url(#g_red)"/><circle cx="49.10" cy="457.10" r="2.65" fill="url(#g_red)"/><circle cx="55.70" cy="456.05" r="2.65" fill="url(#g_red)"/><circle cx="64.00" cy="455.10" r="2.65" fill="url(#g_red)"/><circle cx="71.00" cy="454.50" r="2.65" fill="url(#g_red)"/><circle cx="78.90" cy="453.80" r="2.65" fill="url(#g_red)"/><circle cx="87.20" cy="453.42" r="2.65" fill="url(#g_red)"/><circle cx="95.50" cy="453.12" r="2.65" fill="url(#g_red)"/><circle cx="105.40" cy="452.80" r="2.65" fill="url(#g_red)"/><circle cx="116.10" cy="452.50" r="2.65" fill="url(#g_red)"/><circle cx="125.50" cy="452.27" r="2.65" fill="url(#g_red)"/><circle cx="135.40" cy="452.06" r="2.65" fill="url(#g_red)"/><circle cx="147.60" cy="451.83" r="2.65" fill="url(#g_red)"/><circle cx="157.00" cy="451.66" r="2.65" fill="url(#g_red)"/><circle cx="168.90" cy="451.43" r="2.65" fill="url(#g_red)"/><circle cx="178.80" cy="451.25" r="2.65" fill="url(#g_red)"/><circle cx="191.70" cy="451.01" r="2.65" fill="url(#g_red)"/><circle cx="203.60" cy="450.81" r="2.65" fill="url(#g_red)"/><circle cx="217.00" cy="450.59" r="2.65" fill="url(#g_red)"/><circle cx="231.90" cy="450.37" r="2.65" fill="url(#g_red)"/><circle cx="250.00" cy="450.10" r="2.65" fill="url(#g_red)"/><path d="M40.60,469.00 L40.61,468.70 L40.64,467.69 L40.68,465.85 L40.75,463.61 L40.80,462.80 L40.83,462.68 L40.94,462.33 L41.06,461.97 L41.20,461.61 L41.35,461.29 L41.53,461.00 L41.73,460.76 L41.94,460.57 L42.17,460.40 L42.42,460.24 L42.60,460.10 L42.69,460.02 L42.98,459.79 L43.29,459.57 L43.62,459.36 L43.96,459.15 L44.32,458.96 L44.70,458.78 L45.10,458.60 L45.52,458.43 L45.60,458.40 L45.96,458.26 L46.42,458.09 L46.89,457.93 L47.38,457.77 L47.90,457.61 L48.43,457.47 L48.98,457.33 L49.54,457.20 L50.00,457.10 L50.13,457.07 L50.73,456.96 L51.36,456.85 L52.00,456.75 L52.66,456.65 L53.34,456.56 L54.04,456.46 L54.76,456.37 L55.49,456.28 L56.10,456.20 L56.24,456.18 L57.02,456.08 L57.81,455.98 L58.62,455.89 L59.45,455.79 L60.29,455.69 L61.16,455.59 L62.04,455.50 L62.95,455.41 L63.87,455.31 L64.00,455.30 L64.81,455.22 L65.77,455.14 L66.74,455.05 L67.74,454.97 L68.75,454.89 L69.79,454.80 L70.84,454.71 L71.00,454.70 L71.91,454.62 L73.00,454.51 L74.10,454.41 L75.23,454.30 L76.37,454.19 L77.54,454.09 L78.72,454.01 L78.90,454.00 L79.92,453.94 L81.14,453.88 L82.38,453.82 L83.63,453.76 L84.91,453.71 L86.20,453.66 L87.51,453.61 L87.70,453.60 L88.85,453.55 L90.20,453.50 L91.56,453.45 L92.95,453.40 L94.36,453.35 L95.78,453.31 L96.00,453.30 L97.22,453.26 L98.68,453.21 L100.16,453.17 L101.66,453.12 L103.18,453.07 L104.71,453.02 L106.27,452.98 L107.84,452.93 L109.43,452.88 L111.04,452.84 L112.67,452.79 L114.32,452.75 L115.98,452.70 L117.67,452.66 L119.37,452.62 L120.00,452.60 L121.09,452.57 L122.83,452.53 L124.59,452.49 L126.37,452.45 L128.17,452.41 L129.98,452.38 L131.81,452.34 L133.67,452.30 L135.54,452.26 L137.43,452.22 L139.33,452.19 L141.26,452.15 L143.21,452.11 L145.17,452.08 L147.15,452.04 L149.15,452.00 L151.17,451.96 L153.21,451.93 L155.27,451.89 L157.34,451.85 L159.44,451.81 L160.00,451.80 L161.55,451.77 L163.68,451.73 L165.83,451.69 L168.00,451.65 L170.19,451.61 L172.39,451.57 L174.62,451.52 L176.86,451.48 L179.12,451.44 L181.40,451.40 L183.70,451.36 L186.02,451.31 L188.35,451.27 L190.71,451.23 L193.08,451.19 L195.47,451.15 L197.88,451.10 L200.31,451.06 L202.76,451.02 L205.23,450.98 L207.71,450.94 L210.00,450.90 L210.21,450.90 L212.74,450.86 L215.28,450.82 L217.84,450.78 L220.41,450.74 L223.01,450.70 L225.63,450.66 L228.26,450.62 L230.91,450.58 L233.58,450.54 L236.27,450.50 L238.98,450.46 L241.71,450.42 L244.45,450.38 L247.22,450.34 L250.00,450.30" fill="none" stroke="#000" stroke-width="1.45" stroke-linecap="round" stroke-linejoin="round"/></g><text x="53.4" y="304.7" font-size="12" text-anchor="start">1.68MPa</text><text x="263.2" y="412.8" font-size="12" text-anchor="start">1.28MPa</text><text x="264.0" y="465.4" font-size="12" text-anchor="start">0.88MPa</text><path d="M393.5,282.79999999999995 L393.5,501.0 L676.8,501.0" fill="none" stroke="#3a3a3a" stroke-width="1"/><path d="M450.16,501.0 L450.16,496.6 M506.82,501.0 L506.82,496.6 M563.48,501.0 L563.48,496.6 M620.14,501.0 L620.14,496.6 M676.80,501.0 L676.80,496.6 M393.5,482.82 L397.9,482.82 M393.5,464.63 L397.9,464.63 M393.5,446.45 L397.9,446.45 M393.5,428.27 L397.9,428.27 M393.5,410.08 L397.9,410.08 M393.5,391.90 L397.9,391.90 M393.5,373.72 L397.9,373.72 M393.5,355.53 L397.9,355.53 M393.5,337.35 L397.9,337.35 M393.5,319.17 L397.9,319.17 M393.5,300.98 L397.9,300.98 M393.5,282.80 L397.9,282.80" fill="none" stroke="#3a3a3a" stroke-width="1"/><text x="393.50" y="513.90" font-size="13.4" text-anchor="middle">0</text><text x="450.16" y="513.90" font-size="13.4" text-anchor="middle">4</text><text x="506.82" y="513.90" font-size="13.4" text-anchor="middle">8</text><text x="563.48" y="513.90" font-size="13.4" text-anchor="middle">12</text><text x="620.14" y="513.90" font-size="13.4" text-anchor="middle">16</text><text x="676.80" y="513.90" font-size="13.4" text-anchor="middle">20</text><text x="388.10" y="504.60" font-size="13.4" text-anchor="end">1.8</text><text x="388.10" y="486.42" font-size="13.4" text-anchor="end">1.9</text><text x="388.10" y="468.23" font-size="13.4" text-anchor="end">2.0</text><text x="388.10" y="450.05" font-size="13.4" text-anchor="end">2.1</text><text x="388.10" y="431.87" font-size="13.4" text-anchor="end">2.2</text><text x="388.10" y="413.68" font-size="13.4" text-anchor="end">2.3</text><text x="388.10" y="395.50" font-size="13.4" text-anchor="end">2.4</text><text x="388.10" y="377.32" font-size="13.4" text-anchor="end">2.5</text><text x="388.10" y="359.13" font-size="13.4" text-anchor="end">2.6</text><text x="388.10" y="340.95" font-size="13.4" text-anchor="end">2.7</text><text x="388.10" y="322.77" font-size="13.4" text-anchor="end">2.8</text><text x="388.10" y="304.58" font-size="13.4" text-anchor="end">2.9</text><text x="388.10" y="286.40" font-size="13.4" text-anchor="end">3.0</text><text transform="translate(365.1,392.1) rotate(-90)" font-size="14.6" text-anchor="middle"><tspan font-style="italic">ε</tspan>/%</text><text x="527.0" y="521.3" font-size="15" text-anchor="middle" font-style="italic">t/h</text><text x="523.0" y="543.8" font-size="15.4" text-anchor="middle">d. w=12.36%</text><g clip-path="url(#cD)"><circle cx="394.10" cy="379.10" r="2.65" fill="url(#g_bblue)"/><circle cx="394.00" cy="372.50" r="2.65" fill="url(#g_bblue)"/><circle cx="395.30" cy="367.20" r="2.65" fill="url(#g_bblue)"/><circle cx="394.30" cy="364.20" r="2.65" fill="url(#g_bblue)"/><circle cx="396.69" cy="360.64" r="2.65" fill="url(#g_bblue)"/><circle cx="399.96" cy="357.87" r="2.65" fill="url(#g_bblue)"/><circle cx="403.79" cy="355.91" r="2.65" fill="url(#g_bblue)"/><circle cx="407.79" cy="354.34" r="2.65" fill="url(#g_bblue)"/><circle cx="411.83" cy="352.85" r="2.65" fill="url(#g_bblue)"/><circle cx="415.83" cy="351.29" r="2.65" fill="url(#g_bblue)"/><circle cx="419.85" cy="349.78" r="2.65" fill="url(#g_bblue)"/><circle cx="423.93" cy="348.40" r="2.65" fill="url(#g_bblue)"/><circle cx="428.05" cy="347.19" r="2.65" fill="url(#g_bblue)"/><circle cx="432.21" cy="346.09" r="2.65" fill="url(#g_bblue)"/><circle cx="436.38" cy="345.03" r="2.65" fill="url(#g_bblue)"/><circle cx="440.54" cy="343.97" r="2.65" fill="url(#g_bblue)"/><circle cx="444.75" cy="343.09" r="2.65" fill="url(#g_bblue)"/><circle cx="448.97" cy="342.24" r="2.65" fill="url(#g_bblue)"/><circle cx="453.18" cy="341.39" r="2.65" fill="url(#g_bblue)"/><circle cx="457.40" cy="340.54" r="2.65" fill="url(#g_bblue)"/><circle cx="461.63" cy="339.79" r="2.65" fill="url(#g_bblue)"/><circle cx="465.87" cy="339.05" r="2.65" fill="url(#g_bblue)"/><circle cx="470.10" cy="338.30" r="2.65" fill="url(#g_bblue)"/><circle cx="474.34" cy="337.55" r="2.65" fill="url(#g_bblue)"/><circle cx="478.56" cy="336.73" r="2.65" fill="url(#g_bblue)"/><circle cx="482.78" cy="335.90" r="2.65" fill="url(#g_bblue)"/><circle cx="486.64" cy="334.02" r="2.65" fill="url(#g_bblue)"/><circle cx="490.26" cy="331.73" r="2.65" fill="url(#g_bblue)"/><circle cx="493.30" cy="328.81" r="2.65" fill="url(#g_bblue)"/><circle cx="495.37" cy="325.04" r="2.65" fill="url(#g_bblue)"/><circle cx="496.20" cy="323.80" r="2.65" fill="url(#g_bblue)"/><path d="M393.60,381.00 C393.60,379.50 393.45,374.72 393.60,372.00 C393.75,369.28 394.00,366.47 394.50,364.70 C395.00,362.93 395.70,362.43 396.60,361.40 C397.50,360.37 398.53,359.40 399.90,358.50 C401.27,357.60 402.88,356.82 404.80,356.00 C406.72,355.18 409.07,354.48 411.40,353.60 C413.73,352.72 416.53,351.53 418.80,350.70 C421.07,349.87 423.13,349.18 425.00,348.60 C426.87,348.02 427.27,347.92 430.00,347.20 C432.73,346.48 436.77,345.33 441.40,344.30 C446.03,343.27 452.32,342.03 457.80,341.00 C463.28,339.97 470.10,338.87 474.30,338.10 C478.50,337.33 480.63,337.13 483.00,336.40 C485.37,335.67 486.85,334.70 488.50,333.70 C490.15,332.70 491.62,331.95 492.90,330.40 C494.18,328.85 495.65,325.40 496.20,324.40" fill="none" stroke="#000" stroke-width="1.45" stroke-linecap="round" stroke-linejoin="round"/><circle cx="393.90" cy="490.10" r="2.65" fill="url(#g_red)"/><circle cx="394.40" cy="472.10" r="2.65" fill="url(#g_red)"/><circle cx="397.00" cy="462.50" r="2.65" fill="url(#g_red)"/><circle cx="400.90" cy="455.90" r="2.65" fill="url(#g_red)"/><circle cx="407.50" cy="451.50" r="2.65" fill="url(#g_red)"/><circle cx="415.20" cy="447.80" r="2.65" fill="url(#g_red)"/><circle cx="425.00" cy="445.10" r="2.65" fill="url(#g_red)"/><circle cx="436.00" cy="442.70" r="2.65" fill="url(#g_red)"/><circle cx="449.10" cy="440.80" r="2.65" fill="url(#g_red)"/><circle cx="464.40" cy="439.40" r="2.65" fill="url(#g_red)"/><circle cx="478.70" cy="438.60" r="2.65" fill="url(#g_red)"/><circle cx="494.70" cy="437.60" r="2.65" fill="url(#g_red)"/><circle cx="510.40" cy="436.70" r="2.65" fill="url(#g_red)"/><circle cx="525.30" cy="436.00" r="2.65" fill="url(#g_red)"/><circle cx="540.20" cy="435.39" r="2.65" fill="url(#g_red)"/><circle cx="554.90" cy="434.91" r="2.65" fill="url(#g_red)"/><circle cx="570.10" cy="434.50" r="2.65" fill="url(#g_red)"/><circle cx="589.30" cy="434.12" r="2.65" fill="url(#g_red)"/><circle cx="610.80" cy="433.79" r="2.65" fill="url(#g_red)"/><circle cx="631.80" cy="433.51" r="2.65" fill="url(#g_red)"/><circle cx="648.80" cy="433.30" r="2.65" fill="url(#g_red)"/><path d="M393.60,484.00 L393.61,483.77 L393.65,483.06 L393.70,481.82 L393.78,480.06 L393.88,477.93 L394.00,476.00 L394.01,475.89 L394.16,474.17 L394.33,472.63 L394.40,472.10 L394.52,471.35 L394.73,470.15 L394.97,469.03 L395.23,467.98 L395.50,467.00 L395.52,466.94 L395.82,465.90 L396.15,464.88 L396.50,463.90 L396.88,462.98 L397.00,462.70 L397.27,462.10 L397.69,461.21 L398.14,460.32 L398.60,459.43 L399.09,458.57 L399.60,457.75 L400.13,456.99 L400.69,456.32 L400.90,456.10 L401.27,455.75 L401.87,455.21 L402.49,454.71 L403.14,454.23 L403.81,453.79 L404.50,453.36 L405.21,452.95 L405.95,452.55 L406.71,452.13 L407.49,451.70 L407.50,451.70 L408.30,451.25 L409.13,450.80 L409.98,450.35 L410.85,449.90 L411.75,449.46 L412.67,449.03 L413.61,448.62 L414.57,448.23 L415.20,448.00 L415.56,447.87 L416.57,447.54 L417.60,447.22 L418.65,446.91 L419.73,446.61 L420.83,446.32 L421.96,446.04 L423.10,445.76 L424.27,445.48 L425.00,445.30 L425.46,445.19 L426.67,444.89 L427.91,444.60 L429.17,444.31 L430.45,444.02 L431.76,443.73 L433.08,443.45 L434.43,443.19 L435.80,442.93 L436.00,442.90 L437.20,442.69 L438.62,442.46 L440.06,442.23 L441.52,442.00 L443.01,441.78 L444.52,441.57 L446.05,441.37 L447.60,441.18 L449.10,441.00 L449.18,440.99 L450.78,440.81 L452.40,440.64 L454.04,440.48 L455.71,440.31 L457.40,440.16 L459.11,440.01 L460.85,439.86 L462.61,439.73 L464.39,439.60 L464.40,439.60 L466.19,439.48 L468.02,439.37 L469.87,439.27 L471.74,439.17 L473.63,439.07 L475.55,438.97 L477.49,438.87 L478.70,438.80 L479.45,438.76 L481.43,438.63 L483.44,438.51 L485.47,438.38 L487.52,438.25 L489.60,438.12 L491.70,437.98 L493.82,437.85 L494.70,437.80 L495.96,437.72 L498.13,437.59 L500.32,437.46 L502.53,437.34 L504.77,437.21 L507.02,437.08 L509.30,436.96 L510.40,436.90 L511.60,436.84 L513.93,436.72 L516.28,436.61 L518.65,436.50 L521.04,436.39 L523.46,436.28 L525.30,436.20 L525.90,436.17 L528.36,436.07 L530.84,435.96 L533.35,435.86 L535.88,435.75 L538.43,435.66 L540.00,435.60 L541.00,435.56 L543.60,435.47 L546.22,435.39 L548.86,435.30 L551.53,435.21 L554.22,435.13 L556.93,435.04 L559.66,434.96 L562.42,434.89 L565.20,434.81 L568.00,434.75 L570.00,434.70 L570.82,434.68 L573.67,434.62 L576.54,434.56 L579.43,434.50 L582.35,434.45 L585.28,434.39 L588.24,434.34 L591.23,434.29 L594.23,434.24 L597.26,434.19 L600.31,434.15 L603.39,434.10 L606.48,434.05 L609.60,434.01 L610.00,434.00 L612.74,433.96 L615.91,433.92 L619.09,433.87 L622.30,433.83 L625.54,433.79 L628.79,433.75 L632.07,433.71 L635.37,433.67 L638.69,433.63 L642.04,433.59 L645.41,433.54 L648.80,433.50" fill="none" stroke="#000" stroke-width="1.45" stroke-linecap="round" stroke-linejoin="round"/></g><text x="500.2" y="337.2" font-size="12" text-anchor="start">1.28MPa</text><text x="630.4" y="448.0" font-size="12" text-anchor="start">0.88MPa</text></svg>
</body></html>
